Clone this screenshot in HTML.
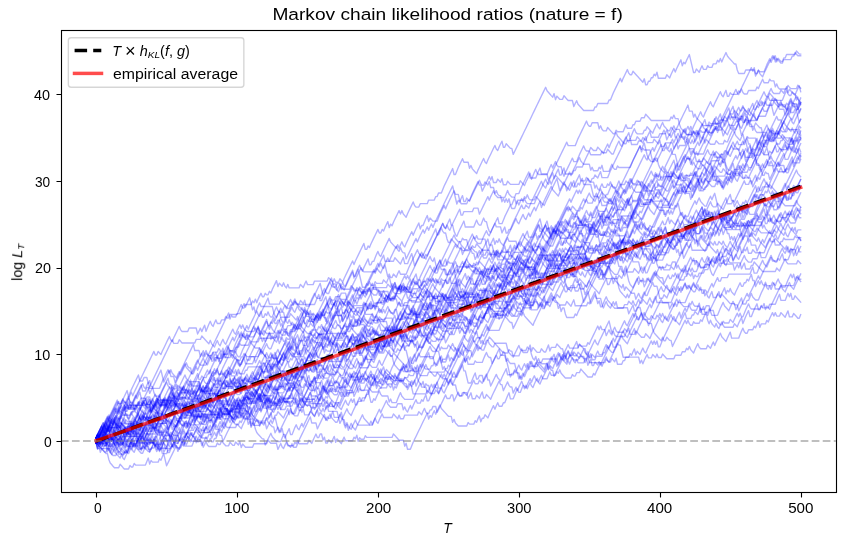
<!DOCTYPE html><html><head><meta charset="utf-8"><style>html,body{margin:0;padding:0;background:#fff;width:846px;height:545px;overflow:hidden}</style></head><body><svg width="846" height="545" viewBox="0 0 846 545" style="display:block">
<rect width="846" height="545" fill="#fff"/>
<g transform="matrix(1.409091 0 0 -0.08671171 96.1303 441.14)" fill="none" stroke="#0000ff" stroke-opacity="0.3" stroke-width="1.39" stroke-linejoin="round" stroke-linecap="square">
<path vector-effect="non-scaling-stroke" d="M0 37l1 33l1 34l1 33l1 34l1-40l1-19l1 41l1 34l1 33l1 34l1 33l2 68l1 33l2 68l1-41l1 41l1 33l1-40l2 0l1 40l1 41l1 34l1-41l1 41l1 33l2 68l1 33l1 34l1 33l2 68l1 33l2 68l1 33l2 68l1-41l1 0l1 41l1-19l1-18l1 41l1 33l2 68l1 33l1 34l1-41l1-18l1 41l1 33l2 68l1 33l1-40l1-18l4 0l1 40l5 0l1-69l1 33l1 34l1-40l1 40l1 34l1-70l1 41l1 40l1 34l1-40l1-19l1 41l1 34l1-41l2 0l1 41l2 0l1 40l1-18l1 0l1 40l5 0l1 41l1 40l1 34l1-40l1 0l1 40l4 0l1 41l1-19l1 41l1-41l1 41l1 34l1 33l1-40l1 0l1 40l1-18l1 0l1 41l1-19l1 41l1 34l1 33l1 34l1-69l1 40l2-36l1 40l1-40l1-19l1 41l1-41l7 0l1 41l1-18l1-19l1 41l1 34l1-41l4 0l1 41l9 0l1 40l3-54l1 40l1-40l2 0l1 40l2-36l1 40l1 34l1 33l2 68l1 33l1 34l1-41l1 41l1 34l1 33l2 68l1 33l1 34l1-69l1 0l1 40l1-18l1 40l2 68l1 33l2 68l1-41l1 0l1 41l1-19l1 41l1 34l1 33l1-69l1 41l1-19l1 41l1 34l1 33l1 34l1 33l1-40l1 40l1-40l1-18l1-19l1 41l1 34l1 33l2 68l1-41l1-18l2 0l1 40l5 0l1 41l4 0l1 40l1 0l1 41l2 0l1 41l1 40l1 34l1 33l2 68l1 33l1 34l1-69l1 0l1 40l1 41l1 33l2 68l1-41l3 0l1-69l1 33l1-40l1-18l1-19l1-18l1 41l1 33l2 68l1 33l1-40l1-18l1 40l1 34l1 33l2 68l1 33l1-40l1-18l1 40l1 34l1 33l1-69l1 0l1 41l1-19l2-36l1 0l1-69l1 33l2 68l1 33l2 68l1 33l1 34l1 33l2 68l1 33l2 68l1 33l2 68l1 33l2 68l1 33l2 68l1-41l2-36l1-19l1-18l1 41l1-70l1 41l1-18l1-19l2 0l1 41l1-18l1-19l1-18l3 0l1-69l1 34l1 33l1-40l1-19l3-54l7 0l1 40l1 0l1 41l7 0l1 40l1 0l1 41l1 40l2 68l1 33l2 68l1-41l1 41l1 33l2 68l1-41l1-18l1 0l1 40l3-54l1-19l3-54l1 40l1-69l1 0l1 41l1 0l1 40l1 0l1 41l1-19l1 41l1-69l5 0l1 40l2-36l1 40l2 68l1-41l1 41l1 33l2 68l1-70l1 41l1-18l1 40l1 34l1 33l2-138l1-70l1 0l1 41l1-18l1-19l1 41l1 34l1-41l2 0l1 41l1-19l2 0l1 41l2 0l1 41l1-19l1 41l1-41l1 41l1 34l1 33l1-40l1-19l3-54l1-19l1 0l1-69l1-40l4 0l1 40l6 0l1-69l1 33l1 34l1-40l1-19l1-18l1 41l1 33l2 68l1 33l2 68l1-41l1 41l1-70l1 41l1-18l1-19l1 0l1 41l1 0l1 40l6 0l1 41l1-18l1-19l1 0"/>
<path vector-effect="non-scaling-stroke" d="M0 37l1 33l1-40l1-19l3-54l1 40l1-40l1-19l1 41l1 34l1 33l1 34l1-69l2 0l1 40l3 0l1-69l1-41l7 0l1 41l11 0l1 40l2-36l1 41l1 33l1 34l1-70l2 0l1-69l1 34l1 33l1 34l1-69l1 0l1 40l1-18l1 0l1 41l1-19l1-18l2 0l1 41l1-18l1-19l1-18l7 0l1-69l1 33l1 34l1-41l1-18l5 0l1 41l1-18l1 0l1 40l2-36l1-19l2 0l1 41l2-36l1 0l1 40l2-36l1 40l1-69l1 40l2-36l5 0l1 40l9 0l1 41l2-36l4 0l1-70l2 68l1-41l1-18l1 40l1 34l1-41l4 0l1 41l1-18l1 40l1-40l6 0l1 40l2-36l1 40l2 68l1-41l1 0l1 41l1 0l1-70l1 34l1-69l1 0l1 40l2-36l1 40l1 34l1-69l1 40l2-36l1-19l1 41l1 34l1-41l5 0l1 41l1-19l1 41l1-69l1 40l1-18l2 0l1 41l1-19l18 0l1 41l1-18l1-19l2-36l3 0l1-69l1 33l1-69l2 0l1 40l1 41l1 34l1 33l2 68l1 33l2 68l1 33l1 34l1 33l1-69l1 41l1-19l1 41l1 34l1-41l1 41l1 33l1 34l1-41l3-54l1-19l1-18l2 0l1-69l1 34l1-41l2-36l6 0l1 40l1-18l3 0l1 40l1-18l1 41l1 33l1-69l1 41l1 0l1 40l2-36l1 40l2 68l1 33l1-40l1 40l1 34l1-41l2 0l1 41l1 0l1 40l1 41l1 34l1-70l2 0l1 41l1 40l1 34l1-41l1 0l2 82l1-41l1 41l1-41l1 41l1 33l1-40l1-19l1 41l1 34l1 33l1-40l1 40l1 34l1-41l3 0l1 41l1 40l1-40l3 0l1 40l1-18l1 41l1-41l3-54l4 0l1 40l1-18l1 0l1 40l2 0l1 41l1-18l1-19l3-54l3 0l1 40l1-18l1 41l1 33l2 68l1-41l1 41l1 33l1 34l1-41l1-18l1 0l1 41l1-19l1-18l1 41l1-70l3 0l1 41l1 0l1 41l9 0l1-70l1 34l1-41l1 41l1 33l1 34l1-40l2 0l1 40l2-36l1 40l1-40l2 0l1 40l3-54l5 0l1 40l4 0l1 41l2 0l1 40l1-18l1 40l1-40l1-18l1-19l1 41l1 34l1 33l1-40l1-18l4 0l1 40l2-36l1 40l1 34l1-41l1 41l1 33l2 68l1-41l2-36l1-19l1 41l1 34l1 33l1-69l5 0l1 41l1 40l1 34l1-41l1-18l1 0l1 41l3 0l1 40l1-18l1 40l1 34l1-69l1 40l3 0l1 41l1-18l1 40l1 34l1 33l1-40l1 40l1-40l2 0l1 40l3-54l1 40l1 34l1-69l2 0l1 40l2-36l1-19l1 0l1 41"/>
<path vector-effect="non-scaling-stroke" d="M0-16l1-19l3 0l2 82l1 33l1 34l1 33l1 34l1-69l1 0l1 40l2 0l1 41l1-18l1-19l2-36l5 0l1 41l1 40l1-40l1 40l1-40l1 40l1 34l1 33l1 34l1-41l1-18l2 0l1 41l2 0l1 40l1 41l1-69l1 40l2-36l1-19l1 41l1 34l1 33l2 68l1 33l1 34l1-41l1 41l1 33l1-40l1-18l3 0l1 40l1 41l1-41l2-36l1 40l1-40l1 40l2 68l1 33l1-69l1 0l1 40l2 0l2 82l1 33l1 34l1-69l2 0l1 40l1 41l1 33l1-40l1-18l1-19l1 0l1 41l2 0l1 40l1 41l1 34l1 33l1-40l1-19l1 41l1 34l1 33l1 34l1-69l2 0l1 40l5 0l1 41l1 40l1-40l1 40l2 68l1-41l1-18l1 0l1 40l1 41l1 34l1 33l1 34l1 33l1-40l1-18l2 0l1 40l1-18l1 0l1 41l1 0l1 40l2-36l1 40l1 34l1-41l1 41l1 33l1-40l1-18l1-19l1 0l1 41l2-36l1 40l1 34l1 33l1 34l1-41l1 41l1 34l1 33l2 68l1 33l1 34l1-41l2 0l1 41l3 0l1 40l3 0l1-69l1 34l1 33l2 68l1-41l1 0l1 41l1-19l3-54l1 40l2 68l1 33l2 68l1 33l1 34l1-41l1 41l1 34l1 33l1 34l1 33l1 34l1-69l6 0l1 40l3-54l1-19l1 41l1 34l1-70l2 0l1 41l1 40l1 34l1-69l1-70l2 68l1 33l1 34l1-41l1 41l1-41l1-18l1 41l1 33l2 68l1 33l2 68l1 33l2 68l1 33l1 34l1-41l1-18l1 41l1-41l1-18l1 40l2 68l1 33l2 68l1 33l1-69l1 0l1 41l6 0l1 40l3 0l1-69l1 33l2 68l1 33l2 68l1-41l1 41l1 33l1 34l1-41l2-36l5 0l1 40l1 41l1-41l2-36l2 0l1 41l2 0l1 40l1 41l1 33l2 68l1 33l1 34l1-69l4 0l1 40l1 41l1 33l1-69l4 0l1-69l1 33l2 68l1 33l2 68l1 33l2 68l1 33l1 34l1 33l1 34l1-40l5 0l1 40l1 41l1 33l2 68l1 33l2 68l1-41l1-18l1 0l1 40l4 0l1-69l1 34l1-41l1-18l2 0l1 40l3-54l1-19l1 0l1 41l1-18l4 0l1 40l1 41l1-41l3 0l1 41l1 0l1 40l3 0l1 41l2 0l1 41l1-19l3-54l13 0l1 40l1-18l1 40l1-40l2 0l1-69l1-41l2-36l1-19l1 41l1 34l1-41l1 41l1-41l1 41l1 33l1 34l1 33l2 68l1-41l1-18l1 41l1 33l1 34l1 33l1 34l1-40l1-19l1 41l1 34l1 33l1 34l1 33l1-40l1-18l1 40l1 34l1-69l1 0l1 40l1-18l4 0l1 40l1-18l1 41l1-41l1-18l2 0l1 41l5 0l1 40l1-18l1 40l2 68l1-41l3 0l1 41l1-19l2 0l1-69l1 34l1-41l1-18l5 0l1 41l1-19l1-18l4 0l1 41l1-19l1-18"/>
<path vector-effect="non-scaling-stroke" d="M0 37l1-70l1 41l1-18l1 40l1 34l1 33l1-40l1-18l1 40l1 34l1 33l2 68l1 33l1-69l1 0l1 41l1-19l3-54l2 0l1 40l1-18l1 0l1 41l1-19l1 41l1-41l1 41l1 34l1 33l1 34l1 33l1 34l1-40l1 40l1-69l1 40l1 41l1 34l1-70l1 0l1 41l1-18l1 40l1 34l1 33l1-40l1-18l1-19l2-36l1 40l1 34l1-69l2 0l1-70l2 68l1 33l1-40l1 40l1 34l1-69l1 40l1-18l2 0l1 41l1-19l1 0l1 41l1 0l1 40l1 41l1 34l1 33l1-40l1 40l1 34l1-41l3 0l1 41l3 0l1 40l3-54l1 40l1 34l1-41l1-18l1 0l1 41l1 40l1-40l2 0l1 40l3-54l1-19l1-18l1 41l1 33l2 68l1-41l1 41l1 33l1-40l1 40l2 68l1 33l1-69l1 40l1-18l2 0l1 41l1-18l1 40l1 34l1 33l2 68l1 33l1 34l1-69l1 40l1 41l1 33l1-69l1 0l1 41l1 40l1 34l1 33l1-69l3 0l1 41l1-19l2 0l1 41l2-36l2 0l1-70l2 68l1 33l1 34l1-41l1 41l1 33l2 68l1-41l3-54l1 0l1 40l1-18l2 0l1 40l2-36l3 0l1 40l1-18l1 41l1 33l2 68l1 33l2 68l1-70l1 41l2 0l1 40l5 0l2 82l1-41l1-18l1 0l1 40l1-18l1 41l1 33l2 68l1-41l1 41l1 33l1-40l1-19l1 41l1 34l1 33l1-69l1 40l2-36l1 41l1-70l1 0l1 41l1 40l2 68l1 33l2 68l1-41l2-36l1 40l1 34l1 33l1 34l1-69l3 0l1 40l1 41l1 33l2 68l1 33l1 34l1-40l1 40l1 34l1-41l2-36l1-19l2 0l2 82l1 33l1 34l1-41l2-36l2 0l1 40l1 41l1 34l1 33l1-40l1-19l1 41l1 34l1 33l2 68l1 33l1-69l2 0l1 40l1 41l1 34l1 33l2 68l1-41l2 0l1 41l1 40l1-40l1 40l1 34l1-41l1 41l1-41l1-18l5 0l1 41l1 40l1 34l1 33l2 68l1 33l1 34l1-41l1-18l1 41l1-41l1 41l1 33l2 68l1 33l1-69l1 0l1 41l1 40l1-69l5 0l1 40l1 0l1 41l4 0l1 40l1 41l1 34l1 33l1 34l1-41l7 0l1 41l1-18l2 0l1 40l3-54l1 0l1 40l1 41l1 33l1 34l1-41l1-18l1 41l1 33l1 34l1-41l1-18l1 41l1-70l4 0l1 41l2 0l1 41l1-19l1-18l1 41l1 33l1 34l1-69l5 0l1 40l4 0l1-69l1 34l1 33l1-40l1 40l1 34l1-70l1 0l1-69l1 34l1 33l2 68l1 33l1-69l3 0l1 41l1-19l1-18l1 41l1-41l1 0l1 41l1-19l2 0l1 41l2-36l1-19l1 0l1 41l1 0l1 40l1-18l1 41l1 33l2 68l1 33l2 68l1 33l2 68l1 33l2 68l1-41l1-18l1 40l2 68l1 33l2 68l1 33l1 34l1 33l1-40l1 40l1-69l1 0l1 41l1-19l3 0l2 82l1 33l1 34l1-41l1 41l1 34l1-70l1 41l1-18l1-19l1-18l1 0l1 41l5 0l1 40l1 0l1 41l1-19l1-18l2 0"/>
<path vector-effect="non-scaling-stroke" d="M0-23l1-69l1 33l1-69l1 41l1-19l2-36l1 0l1-69l1-41l1-18l1-19l1-18l3 0l1 41l1-18l1-19l1-18l3 0l1 41l1-19l1 0l1 41l1-18l7 0l1 40l1 41l1-69l1 40l1-18l4 0l1 40l1-18l1 41l1 33l2-138l1 33l2 68l1 33l2 68l1 33l1-69l1 40l1 41l1 34l1-41l1 41l1-41l1 41l1 33l2 68l1-41l1 41l1 33l1-40l1-19l2-36l4 0l1 41l2 0l1 40l1 41l1 33l1-40l1 40l1 34l1-41l2-36l1 40l2 68l1-41l1 41l1 33l2 68l1 33l1 34l1-41l2-36l1 41l1-41l2 0l1-69l1-70l2 0l1-69l1-40l1-19l3-54l1 0l1-70l2 68l1 33l1 34l1-41l3-54l3 0l1 40l1 41l1-41l1 41l1 33l1 34l1-69l1 0l1 40l1 41l1 33l1-40l1-18l1 40l1 34l1-41l1 41l1 33l2 68l1 33l2 68l1-41l1 41l1 33l2 68l1 33l2 68l1 33l2 68l1-70l2 0l1 41l1-18l1 40l1 34l1 33l1-40l2 0l1 40l1 41l1 34l1 33l2 68l1 33l1 34l1 33l1 34l1-69l1 40l1 41l1-41l1 41l1-41l1 41l1 34l1-70l2 0l1 41l1-18l1-19l1 41l1 33l1-40l5 0l1 40l1-18l1 41l1 33l1-40l1-18l1-19l2-36l1 41l1 33l1 34l1 33l2 68l1 33l2 68l1 33l1-40l3 0l1 40l1 41l1-41l3 0l1-69l1 34l1-70l5 0l1 41l1-18l1-19l1-18l9 0l1 41l1 40l1-40l1-18l2 0l1 40l1-18l1 40l2 68l1-41l1-18l1 40l2 68l1-70l1 41l2 0l1 41l1 40l1 34l1 33l2 68l1 33l2 68l1 33l2 68l1 33l1 34l1 33l1 34l1-40l1-19l1 41l1 34l1 33l1-69l9 0l1 40l1 0l1-69l1-40l7 0l1 40l1-18l3 0l1 40l1 41l1-41l1-18l1 41l1 33l1 34l1-41l1 41l1 34l1-70l4 0l1 41l1 0l1 40l2-36l1 41l1 33l1 34l1 33l1-69l4 0l1 41l1-19l4-72l1 40l1 34l1 33l2 68l1 33l1-40l1-18l2 0l1 40l1-18l2 0l1-69l1-70l2 0l1 41l1-18l1-19l2-36l1 40l2 68l1 33l2-138l1 33l1-40l1-18l1-19l1 41l1-69l1 0l1 40l1 41l1 33l1 34l1-41l1 41l1 34l1 33l2 68l1-41l1 41l1 33l1-40l1 0l1-70l2 68l1 33l2 68l1 33l1-69l2 0l1 40l1 41l1-41l1 0l2 82l1 33l2 68l1 33l1 34l1-70l1 0l1 41l1-18l1 0l1-70l2 68l1 33l1-40l1-18l1-19l2-36l1 41l1-70l1 0l1 41l1-18l1-19l1-18l1 41l1-70l4 0l1 41l1-18l1 0l1 40l1-18l1 0l1 40l2 0l1 41l2-36l1 40l1 34l1 33l1-69l1 0l1-69l1 33l1-40l1-18l1 0l1 40l1-18l3 0l1 40l3-54l1 40l2 68l1 33l1-40l1 40l1 34l1-41l1 0l1 41"/>
<path vector-effect="non-scaling-stroke" d="M0 37l1-19l1 0l1-69l1 34l1-41l2 0l1 41l1 0l1 40l2-36l1-19l1-18l1 41l1 33l1-40l1 40l2 68l1 33l1-69l1 41l1-19l1 41l1 34l1 33l1-40l1-19l2 0l1 41l2-36l1-19l1 41l1 34l1 33l1-69l5 0l1-69l1-70l1 0l1 41l1-18l1-19l1-18l1 41l1 33l1-40l1-19l1 41l1 34l1 33l1 34l1-69l1 40l1 41l1 33l1 34l1-69l1 40l1-18l6 0l1 41l1-19l1-18l2 0l1 41l2 0l1 40l7 0l1 41l4 0l1 40l1 41l1 33l1-40l1-18l3 0l1-70l1 34l1-69l2 0l1-70l1 34l1-69l1 40l1-18l4 0l1 41l1-19l1-18l1 41l1 33l1-40l1-18l1-19l1-18l1 0l1-69l1 33l1 34l1-40l1-19l1 41l1-69l1 0l1-70l1-40l1-19l1-18l1 41l1-41l2 0l1 41l1 40l2 68l1 33l2 68l1 33l1 34l1 33l1-69l3 0l1-69l1 33l2 68l1 33l1 34l1-69l1 40l1-18l1 0l1 41l1 40l1-69l3 0l1-69l1 33l1 34l1 33l2 68l1-41l2-36l1 40l2 68l1 33l2 68l1-41l2 0l1 41l1 40l1 34l1 33l2 68l1-41l1 41l1-70l1 41l1-18l1-19l4 0l1 41l2-36l1 40l1-69l1 40l1-18l1 41l1 33l1 34l1-41l3-54l1 0l1 40l2-36l1 40l1 34l1-69l1 40l1 41l1 33l2 68l1 33l1 34l1-41l4-72l1-19l1 0l1 41l1-18l1-19l2-36l3 0l1-69l1 33l1 34l1-69l2 0l1-70l1-40l1-19l1 0l1 41l3 0l1-69l1 33l1 34l1-69l2 0l1 40l2-36l1 40l1 34l1-69l1 0l1 40l2-36l1-19l1 41l1 34l1 33l2 68l1 33l1-40l1 0l1-70l2 68l1 33l1-40l1-18l1 0l1-70l2 68l1-41l1 41l1 33l1 34l1-41l2-36l1 40l2 68l1-41l1 41l1 33l1-40l1-18l1-19l1-18l1 41l1 33l2 68l1 33l2 68l1 33l1 34l1 33l2-138l1 33l2 68l1 33l1-69l1 41l1 40l1 34l1-41l1-18l1 41l1-41l2 0l1 41l1-19l3-54l2 0l1 40l1 41l1 33l2 68l1 33l1-40l1-18l1 40l1 34l1 33l2 68l1 33l2 68l1-70l1-69l1 34l1 33l1-40l1-18l4 0l1 40l2-36l1 40l1-69l3 0l1 40l3-54l1-19l2 0l1 41l2-36l1-19l1 41l1 34l1 33l1 34l1 33l2 68l1-41l1-18l1 41l1 33l1-40l1-19l1 41l1 34l1-41l2-36l1 40l1 34l1 33l1-69l1 41l1 40l1 34l1-41l1 41l1 33l1-40l1-18l3 0l1 40l1 41l1-70l3 0l1 41l2 0l1-69l1-41l4 0l1 41l1 40l2 68l1-41l2-36l1-19l1 41l1 34l1 33l1-40l2 0l1-70l2 68l1 33l2 68l1 33l1-40l1 40l1 34l1 33l2 68l1 33l1 34l1-40l1 40l1 34l1 33l2 68l1 33l2 68l1-41l2-36l1 0l1 40l1-18l1 40l1 34l1-69l3 0l1 40l1 41l1 34l1-70l1 41l1 40l1 34l1-69l1 0"/>
<path vector-effect="non-scaling-stroke" d="M0-16l2 0l1 40l1-18l1 41l1-41l2-36l1-19l3-54l1-19l3-54l1-19l1 41l1-41l1-18l1 41l1 33l2 68l1 33l1 34l1-69l1 40l3-54l1 0l1 40l2-36l1-19l1-18l1 0l1 41l2 0l1 40l2 0l1-69l1 34l1-70l3 0l1 41l1 0l1 40l1 0l1 41l1-18l1-19l2-36l1 40l2 68l1-70l5 0l2 82l1 33l1-40l2 0l1-70l2 68l1 33l1-40l1-18l1 40l1-40l1 0l1 40l1 0l1 41l1 40l1 34l1-41l1 41l1 33l2 68l1 33l2 68l1 33l1 34l1-41l1 41l1 34l1-41l2 0l1 41l1-19l2-36l1 0l1-69l1 33l2 68l1 33l1 34l1 33l1-69l1 0l1 41l1 40l2 68l1 33l1 34l1-41l2-36l3 0l1 40l2-36l4 0l1 40l2-36l1 41l1 33l2 68l1 33l1 34l1 33l2 68l1 33l2 68l1 33l1 34l1-41l1 0l1 41l1 0l1 41l1-19l1-18l1 0l1 41l1-19l1 0l1 41l1 40l1-69l1 41l1 40l1 34l1-41l1 41l1 34l1-41l1-18l1 40l1-40l1 0l1-70l2 68l1-41l1-18l1 41l1-41l1 41l1-41l1 41l1 33l1-69l1 40l2-36l1 0l1 40l1 0l1 41l1-18l1 40l1-69l1 41l1-19l1 41l1 34l1 33l1-40l8 0l1-70l1-40l1-18l7 0l1-70l2 68l1-70l3 0l1 41l1 40l1 34l1-69l1 0l1 40l1-18l2 0l1 40l1-18l3 0l1 41l1 40l1 34l1-41l1-18l1 0l1 41l1 40l2 68l1-41l2-36l1-19l2-36l1 40l1 34l1-69l1 40l3-54l1 40l1 34l1 33l2 68l1 33l1-40l1-18l1-19l1 41l1 34l1 33l1-40l1 40l1-40l1 40l1-69l1 40l1-18l1 41l1 33l2 68l1 33l1 34l1-41l1 41l1 34l1 33l1 34l1-41l3-54l1 0l1-70l2 68l1-41l2 0l1 41l1 40l1 34l1-41l3-54l1 40l1 34l1 33l2 68l1 33l2 68l1 33l2 68l1-41l3 0l1 41l1-19l3-54l2 0l1 40l1-18l1 41l1 33l1 34l1-69l1 0l1 40l2-36l1-19l2 0l2 82l1 33l1 34l1-69l9 0l1 40l1 41l1 33l2 68l1 33l1 34l1 33l1-40l1-18l2 0l1 40l3-54l4 0l1 40l1 41l1 33l1 34l1-41l1 0l1 41l1 40l2 68l1 33l2 68l1 33l2 68l1 33l2 68l1 33l2 68l1 33l1-40l1 40l1 34l1 33l2 68l1-41l1-18l1 0l1 41l1-19l1 0l1 41l1-18l1 40l1 34l1 33l2 68l1-41l3-54l1-19l3-54l1 40l1-69l2 0l1-69l1 33l1-40l1 0l1-70l2 68l1 33l2 68l1 33l1-40l1-19l1 41l1 34l1-41l2-36l1-19l1 0l1 41l1-18l1-19l1 41l1 34l1 33l2 68l1 33l2 68l1 33l1 34l1-70l2 82l1-70l1-69l1 34l1-41l2-36l1 40l1 34l1 33l2 68l1 33l1 34l1-69l1 0l1 40l1 41l1 33l2-138l1 33l2 68l1 33"/>
<path vector-effect="non-scaling-stroke" d="M0-16l1 33l2 68l1 33l2 68l1-41l1 41l1-70l1 0l1 41l6 0l1-70l2 68l1-70l1 0l1 41l1-18l1 40l2 68l1 33l2 68l1 33l1 34l1 33l1 34l1-40l1-19l2 0l1 41l1-18l1-19l1 41l1 34l1 33l1 34l1-69l7 0l1 40l2-36l1-19l1 0l1 41l1-18l1 40l1-40l1-18l1-19l1-18l1 0l1 41l1-19l1 41l1 34l1 33l2 68l1 33l1 34l1 33l2 68l1 33l1-40l1 40l1-69l1 0l1 41l1-19l1 41l1-41l4 0l1 41l1 0l1 40l4-72l1 40l1-69l1 40l1-18l3 0l1 41l1 0l1 40l9 0l1 41l2 0l1-70l1-40l1 40l1 34l1-40l1 40l1 34l1 33l2 68l1 33l2 68l1 33l1 34l1-69l1 40l1 41l1 33l1-69l1 0l1-69l1-70l1 0l1 41l1 0l1 40l1 41l1 34l1-70l1 0l1 41l1 40l2 68l1-41l1-18l1 41l1 33l1 34l1 33l1-40l1-18l1 40l2 68l1 33l1 34l1 33l1 34l1-40l1-19l2 0l1 41l1-18l1 40l1 34l1 33l1-40l1-18l1-19l2 0l1 41l4 0l1 41l1 0l1-70l2 68l1 33l1-40l1-19l1-18l1 41l1 33l1 34l1-41l1-18l1 0l1 41l1-18l1 0l1 40l4 0l1 41l1-19l3-54l1 40l2 68l1-70l1 0l1 41l1-18l1-19l4 0l1 41l1 40l2 68l1-41l2-36l1-19l1 0l1-69l1 34l1 33l1-40l3 0l1 40l4-72l3 0l1 40l1 41l1-41l1-18l3 0l1 40l7 0l1 41l1 40l2 68l1 33l1-69l2 0l1 41l1 0l1 40l1-18l1 41l1-41l1 41l1 33l1-40l1-19l2-36l1 40l1 34l1-40l1-19l2-36l1 40l2 68l1-41l1 41l1 33l1 34l1-41l3-54l4 0l1 40l1 41l1-69l3 0l1-70l2 68l1 33l1 34l1 33l1 34l1-40l1 40l1-69l1 40l6 0l2-138l2 0l1 40l1-18l1 41l1 33l2 68l1 33l1 34l1 33l1-40l1-18l1-19l1-18l1 41l1 33l2 68l1 33l1 34l1-41l1 41l1-69l1 40l1 41l1-41l2-36l2 0l1 40l1 41l1-41l1-18l1 41l1 33l1 34l1-41l1 41l1-41l2 0l1 41l1-18l1-19l1 41l1-41l3-54l1 40l1 34l1-41l1 41l1-69l2 0l1 40l2-36l1-19l1 0l1 41l2-36l1 40l1 34l1 33l1 34l1-40l1-19l2-36l1 40l2 68l1-41l2-36l1-19l1 41l1 34l1 33l1-40l1 40l2 68l1 33l1-69l1 40l1 41l1 34l1 33l2 68l1-41l1-18l8 0l1 40l3-54l1 40l1-40l1-19l1 41l1 34l1-41l1-18l1 40l2 68l1 33l1-40l1 40l2-138l1 33l2 68l1 33l2 68l1 33l1 34l1-41l1 41l1-41l2 0l1 41l1-18l1-19l3-54l1 40l2 68l1-41l1 41l1-70l1-69l1 34l1 33l2 68l1 33l1 34l1 33l2 68l1 33l2 68l1-41l2-36"/>
<path vector-effect="non-scaling-stroke" d="M0-23l1 40l2 68l1 33l1-69l1 41l1-19l1 41l1 34l1 33l1 34l1-41l1 41l1-41l3-54l1-19l1 0l1 41l2-36l1-19l1-18l1 41l1 33l1 34l1-69l2 0l1-70l2 68l1 33l2 68l1 33l1-40l1-19l2-36l1 0l1 40l1-18l1 0l1 41l4 0l1-70l2 68l1 33l2 68l1 33l1-40l1-18l1-19l1 41l1 34l1 33l1 34l1-69l1 40l1-18l1 40l1-40l1 0l1 40l3-54l1 40l2 68l1-41l1 41l1-41l1-18l1 40l2 68l1 33l1-69l3 0l1-69l1 33l1 34l1-41l1-18l1 41l1 33l2 68l1 33l1-40l2 0l1 40l1 41l1 33l1-40l1-18l1-19l4-72l1 40l1 34l1-70l1 41l1-18l1-19l1 0l2-138l1 40l1 41l1 34l1-41l1 0l1 41l1 40l1 34l1-70l1-69l1 34l1 33l2 68l1 33l2 68l1 33l2 68l1-41l1 41l1 33l1 34l1-41l1 41l1-41l1 0l1-69l1-41l2-36l1 0l1-69l1 33l1-69l2 0l1 41l1 40l1-40l1-19l1-18l1 41l1 33l1-40l1-18l1-19l2 0l1 41l1-18l2 0l1 40l1 41l1 33l2 68l1 33l1-69l2 0l1-69l1-70l1 41l1-18l5 0l1-70l1-69l1 0l1 41l1-19l1 41l1 34l1 33l1-40l1-19l4 0l1-69l1 34l1-41l3 0l1 41l1 40l1 34l1-41l2-36l6 0l1 40l1 41l1 34l1 33l1 34l1-41l3 0l1-69l1 34l1 33l1 34l1-40l1 40l1-40l1 0l1-70l1 34l1 33l1-40l1-18l1 40l2 68l1 33l1 34l1 33l1 34l1-40l1-19l1 41l1 34l1 33l1 34l1-69l1 0l1-70l1-69l2 0l1 40l1 41l1 34l1-70l1 0l1 41l2 0l1-69l1 33l2 68l1 33l1 34l1 33l2 68l1 33l1-40l1 0l1 40l3 0l1-69l1 34l1-41l1-18l3 0l1-69l1-41l1 0l1-69l1 33l1 34l1-40l1 40l1 34l1 33l2 68l1-41l1-18l2 0l1 40l3-54l1-19l1 41l1 34l1-70l1 41l1-18l1-19l1 41l1 34l1 33l2 68l1-70l1 0l1 41l1 0l1-69l1 33l1 34l1 33l2 68l1 33l1 34l1-69l1 40l3-54l1 0l1-70l1 34l1-69l1 0l1 40l2-36l1 40l1 34l1-41l2 0l1 41l1 40l1 34l1-40l1 0l1 40l1 41l1-70l2 0l1 41l1-18l1 0l1-70l1-69l4 0l1 41l1-19l1 41l1 33l1-69l1 41l1-19l1-18l1 41l1 33l1-40l1-18l1 40l2 68l1 33l1-40l1 40l1-40l1 40l1-69l1 0l1 40l1 41l1 34l1 33l2 68l1 33l1 34l1 33l1 34l1-40l1-19l2-36l1 40l2 68l1 33l1-69l3 0l1 41l1 0l1 40l2-36l1 40l1 34l1-69l3 0l1-70l1-40l1 40l1-40l1-19l1-18l1 41l1-41l1-18l1 41l1 33l1-40l1-19l6 0l1 41l1-18l1-19l1 41l1 34l1 33l1-69l1 41l1 40l1 34l1 33l1-69l1 0l1 41l1 40l1 34l1 33l1-69l1 0l1 41l1-19l4 0l1 41l4 0l1 41l1 40l1 34l1-70l3 0l2 82l1-41l1 41l1-70l1 0l1 41l1-18l1-19l2-36"/>
<path vector-effect="non-scaling-stroke" d="M0-23l1-41l1 41l1 34l1 33l2 68l1 33l1-40l1 40l1-69l3 0l1 40l1 41l1-41l8 0l1-69l1 34l1 33l1 34l1-69l3 0l1 40l2-36l7 0l1 40l2-36l1 40l1-69l2 0l1 41l1-19l2-36l1 41l1 33l1 34l1 33l2 68l1 33l2 68l1 33l1 34l1-41l1-18l1 41l1 33l2 68l1 33l1-40l1 40l1-69l1 41l1 40l1 34l1 33l1 34l1-69l4 0l1-70l1-69l1 41l1-19l5 0l1-69l1 34l1 33l2 68l1 33l2 68l1 33l1-69l1 0l1 41l1-19l1 41l1 33l2 68l1-41l1 0l1 41l1 40l2 68l1-41l1 41l1 33l1-40l1 0l1-70l1 34l1-69l1-70l2 68l1-41l2-36l1-19l3-54l1 40l2 68l1 33l2 68l1-41l1 0l1 41l1 40l1-69l1-70l2 68l1 33l2 68l1 33l2 68l1 33l2 68l1 33l2 68l1-70l1 41l1 40l1-40l1 40l2 68l1-41l2-36l5 0l1 40l1 41l1 33l2 68l1 33l1-69l3 0l1 41l1 40l1-69l2 0l1-70l1-69l2 0l1 41l1 40l1-40l1-19l1 41l1-41l2 0l1 41l2 0l1 41l1-19l2-36l5 0l1 40l2-36l3 0l1 40l1-18l1 41l1-41l3 0l1 41l1-18l1 40l1 34l1 33l2 68l1 33l2 68l1 33l2 68l1-70l4 0l1 41l1-18l1-19l1-18l7 0l1 41l1-19l3 0l1 41l2 0l1 41l1 40l1-40l1 40l1 34l1 33l1-69l5 0l1-69l1-41l2 0l1 41l1 40l2 68l1 33l1-40l1 40l1-40l1 40l2 68l1-41l1-18l1 40l2 68l1 33l1-40l1 40l2 68l1 33l1-40l1 40l1 34l1 33l1-69l1 0l1 41l1-19l1-18l1 41l1 33l1-40l2 0l1 40l3-54l5 0l1-70l1 34l1-40l1-19l2-36l1 40l1-40l1-18l1 40l1-40l1-19l1-18l3 0l1-69l1-41l1 41l1-70l1 0l1-69l1 34l1 33l2 68l1 33l2 68l1 33l2 68l1 33l2 68l1-70l3 0l1 41l1-18l1-19l1-18l1 41l1 33l1 34l1-69l1 0l1 40l2-36l1-19l1 41l1 34l1 33l1 34l1-41l4-72l1 40l1 34l1 33l1 34l1-41l4-72l1-19l1-18l5 0l1 41l1 40l1 34l1 33l2 68l1 33l2 68l1 33l2 68l1-41l1-18l1 40l1-40l1-18l1-19l3-54l1-19l1-18l1 0l1-69l1 34l1-41l2-36l1-19l1 41l1 33l2 68l1 33l2 68l1-41l1 41l1 33l2 68l1-70l5 0l1 41l1-18l1-19l1-18l1 41l1 33l1 34l1-69l9 0l1 40l1 41l1-41l2 0l1-69l1 34l1-41l2-36l1-19l2 0l1 41l1-18l1-19l1 41l1 34l1 33l1-40l1-18l1-19l1 41l1 33l1-40l1-18l1-19l4-72l1-19l1-18"/>
<path vector-effect="non-scaling-stroke" d="M0 37l1 40l1 34l1 33l2 68l1-41l2-36l1-19l1-18l2 0l1 41l1-18l1 40l1 34l1-41l1 41l1-70l1-69l1 34l1 33l2 68l1 33l1-69l3 0l1 41l1 40l1 34l1 33l1-69l1 0l1 41l1 40l1 34l1 33l1 34l1-40l1-19l1 0l1 41l1-18l1 40l1 34l1 33l2 68l1 33l1 34l1-40l1 40l1-40l1 40l1 34l1-70l1 0l1 41l1-18l1-19l2 0l2 82l1 33l1-69l5 0l1-69l1 33l1 34l1-41l1 41l1 34l1 33l1 34l1 33l1 34l1-40l1 40l1 34l1-70l1 0l2 82l1 33l2 68l1 33l1 34l1-41l1-18l1 41l1 33l1-40l1-19l1 0l2 82l1 33l1 34l1 33l2 68l1 33l2 68l1-41l2-36l1-19l1 41l1 34l1 33l2 68l1-70l1 0l1 41l1-18l1 40l1-40l1 0l1 40l1 0l1-69l1 33l1-69l2 0l1 41l2 0l1 40l3-54l1-19l2 0l1 41l1 40l2 68l1 33l1-40l1-18l1-19l2 0l1 41l1-18l1-19l1 0l1 41l2 0l1 41l1 40l1 34l1 33l1 34l1-41l2-36l1 41l1 33l1-40l1-19l1 41l1-41l2 0l1 41l1-18l1-19l4-72l1-19l1 41l1-41l1 41l1 34l1 33l1-40l1-19l3 0l1 41l1-18l2 0l1-70l1 34l1-40l1 40l1-40l1 40l1 34l1-41l2-36l1-19l1 41l1 34l1 33l1 34l1-41l2 0l1 41l2 0l1 40l1-18l4 0l1 41l1 0l1 40l3-54l1 40l1 34l1-41l1 41l1-41l1 41l1 33l2 68l1 33l2 68l1 33l1 34l1-69l3 0l1 40l1 41l1 33l1 34l1-40l1-19l10 0l1 41l1-18l2 0l1 40l2-36l1-19l2-36l4 0l1 41l1 40l1-40l1-19l3-54l1 40l1 34l1 33l2 68l1 33l2 68l1 33l1-40l1 40l2 68l1 33l1 34l1-41l3-54l1-19l1 41l1 34l1 33l2 68l1 33l1-69l1 0l1-69l1 33l2 68l1-41l1-18l1 40l1 34l1-69l1 0l1 40l1-18l1 41l1 33l1-40l1-19l1-18l1 41l1 33l2 68l1 33l1-40l1 40l2 68l1 33l2 68l1 33l1-40l1 40l1 34l1 33l1-40l1-18l1-19l1 41l1 34l1-41l1-18l1 40l1 34l1-69l1 0l1 40l1 0l1 41l1 40l1 34l1-40l2 0l1 40l1 41l1-41l3 0l1 41l1-19l1 0l1-69l1 34l1-41l2-36l4 0l1-70l2 68l1 33l1-69l1 41l1-19l1-18l1 41l1-41l2-36l1 40l1 34l1 33l2 68l1 33l2 68l1 33l1-40l1-18l1-19l2 0l1 41l1 40l2 68l1 33l2 68l1-41l1 41l1 33l2 68l1 33l1 34l1-41l1 41l1 34l1 33l1 34l1 33l2 68l1-41l1 41l1 33l1 34l1-69l1 0l1 40l1-18l1 0l1 41l1-19l2 0l1 41l1 40l1-40l4 0l1-69l1-70l1-69l1 34l1 33l2 68l1 33l1-40l1 0l1-70l1 34l1-41l1-18l7 0l1-69l1 34l1-41l1-18l1 0l1 40l1 0l1 41l1 40l2 68l1 33l1-40l1-18l1-19l1-18l6 0l1 41l1-19"/>
<path vector-effect="non-scaling-stroke" d="M0-16l1 40l1 41l1-41l1 0l1 41l2 0l1-70l2 68l1-41l1 41l1-41l2-36l1-19l1-18l1 0l1 41l1-18l1-19l1 41l1 34l1 33l1-40l1-19l5 0l1 41l1-18l1-19l1 41l1 34l1 33l2 68l1 33l2 68l1 33l2 68l1 33l1 34l1 33l1-40l1-18l1-19l5 0l1 41l1-18l3 0l1-70l2 68l1-70l3 0l1 41l1 0l1-69l1 33l2 68l1 33l1-40l1 40l2 68l1 33l1-40l1 0l1 40l2-36l1 0l1 40l1 0l1 41l3 0l1 40l1 0l1 41l2 0l1 40l2-36l1 41l1-70l1 41l1-18l1 0l1 40l2-36l1 40l1 34l1 33l1-40l1-18l1-19l1-18l1 41l1 33l1-69l2 0l1 41l3 0l1 40l1-18l5 0l1 40l4-72l1 40l1 34l1 33l2 68l1 33l1-40l1-18l1 0l1-70l2 68l1-70l3 0l1 41l1 40l1-40l1-18l1-19l1 41l1 34l1 33l1 34l1-41l1 41l1 33l1-40l2 0l1-69l1-41l3 0l1 41l1-19l1-18l1 0l1 41l1-19l2-36l2 0l1 41l1 40l1 34l1-41l2-36l1 40l2 68l1-41l5 0l1 41l1 40l1 34l1-41l3 0l1 41l1-18l1-19l2-36l1 0l1-70l1-40l1-18l1-19l1-18l2 0l1 41l1-18l1 40l1-69l4 0l1 40l1-18l1 41l1-70l1 0l1 41l1 40l1-40l1-18l3 0l1 40l1 0l1 41l1-18l1-19l1 41l1 33l1 34l1-69l2 0l1 40l1 41l1-69l1 40l2-36l1 40l2 68l1 33l1 34l1 33l1-40l1-18l1-19l1-18l2 0l1-69l1 34l1 33l1 34l1 33l1-40l1 0l1 40l1 41l1 34l1 33l2 68l1 33l2 68l1 33l2 68l1 33l1 34l1 33l2 68l1 33l2 68l1-41l1 41l1 33l1-40l1 40l2 68l1 33l1-40l1-19l1-18l1 41l1 33l1 34l1-40l3 0l1 40l1 41l1-70l2 0l1 41l1-18l1 40l1 34l1 33l2 68l1 33l1 34l1-40l1 40l1 34l1 33l1-40l1 40l1-40l1-18l1-19l1 41l1 34l1 33l1-40l1-19l1-18l1 41l1 33l1-40l1 40l2 68l1-41l2-36l1-19l1-18l8 0l1 41l2 0l1 40l1 41l1 33l1-40l1 40l2 68l1-41l1 0l1-69l1-41l1 41l1 34l1 33l1-40l1 0l1 40l1 41l1 33l2 68l1-41l1-18l1 40l1 34l1-40l1-19l3-54l1-19l1 41l1-69l1-70l1-40l1-18l1-19l1 41l1 34l1-70l2 0l1 41l1 40l2 68l1 33l2 68l1 33l1 34l1-41l1-18l1 41l1-41l3 0l1 41l1-19l1 41l1 34l1-70l2 0l1 41l5 0l1-70l2 68l1-70l1 41l1-18l1 40l2 68l1-70l1 0l1 41l1-18l1 40l1-69l2 0l1 40l1 0l1 41l1 0l1 40l1-18l1 41l1-41l1 41l1-41l2-36l1 40l1-40l3 0l1 40l1 41l1 34l1 33l1 34l1-41l2-36l1 0l1 40l3-54l1 0l1 40l1 0l1-69l1 34l1 33l1 34l1 33l1 34l1-69l1 0l1 40l1-18l1 41l1 33l1 34l1-41l1 0l2 82"/>
<path vector-effect="non-scaling-stroke" d="M0 37l1 33l1 34l1 33l1-69l1 41l1-19l1 41l1 34l1 33l1-40l3 0l1 40l2-36l1 0l1 40l3-54l1-19l1 41l1-41l2-36l5 0l1-69l1 33l1 34l1-41l1 41l1-41l4-72l1 0l1-70l2 68l1 33l2-138l1 33l1 34l1-70l1 0l2 82l1 33l2 68l1 33l1-69l2 0l1 40l1-18l1 41l1 33l2 68l1-41l1 41l1 33l2 68l1 33l1-40l1 40l2 68l1 33l1 34l1-41l1 41l1 33l2 68l1 33l1 34l1-69l4 0l1-70l1-40l1 40l2 68l1-41l2-36l6 0l1 40l3 0l1-69l1 34l1-41l1 41l1-41l1 41l1 33l1-40l1 40l1 34l1-41l2-36l1 40l1-69l6 0l1-69l1 33l2 68l1-41l1 41l1 33l2 68l1 33l1 34l1-41l1-18l1 41l1-70l1 0l2 82l1 33l1 34l1-41l1-18l1 41l1 33l1 34l1-69l3 0l1-70l1 34l1-41l3-54l1 40l1 34l1-41l4 0l1 41l1-18l1 40l1 34l1 33l1-40l1-18l1-19l1-18l1 41l1 33l2 68l1-70l2 0l1 41l1-18l2 0l1 40l1-18l1 41l1-41l1-18l1 0l1-70l2 68l1-41l1-18l1 0l1 41l1-19l1 41l1 34l1-41l2-36l1-19l1 0l1 41l1 40l1-40l2 0l1 40l2 0l1 41l1-18l2 0l1 40l1 0l1-69l1-41l2-36l1 40l1-69l1 41l1-19l1 0l1-69l1-40l1 40l1 34l1 33l2 68l1 33l1 34l1-41l1 41l1-41l1 41l1 34l1 33l2 68l1 33l2 68l1-41l1 0l1 41l1 40l1-69l1-70l2 68l1-41l1 41l1 33l2 68l1 33l1-69l1 41l1-19l1-18l1 0l1 41l1 40l1 34l1-41l2-36l1 0l1 40l3-54l1-19l2-36l1 0l1-69l1-70l2-138l1 40l1 0l1 41l1-18l1 40l1 34l1-41l1-18l1 41l1 33l1-40l1 40l1-69l1 40l3 0l1 41l2-36l1-19l3-54l1 40l1 34l1 33l2 68l1-41l1-18l1 40l2 68l1-41l3-54l1-19l1-18l1 41l1-41l1 41l1 33l1-40l1-19l1 41l1-41l4 0l1 41l1 0l1-69l1 33l1 34l1-69l1 0l1 40l2-36l1 40l1-40l1 40l2 68l1 33l2 68l1 33l2 68l1-41l1 41l1 33l1 34l1 33l2 68l1 33l1-40l1-18l1 40l1 34l1 33l1 34l1-40l1 40l1-69l1 0l1 40l1 41l1-41l1 41l1-41l2-36l1 0l1 40l2-36l1 0l1 41l1-19l1 41l1-41l1 41l1-41l2-36l1 40l2 68l1 33l2 68l1 33l1-40l5 0l1 40l1 41l1 33l2 68l1 33l1-40l1 40l2 68l1 33l2 68l1 33l2 68l1 33l1-69l1 40l2-36l1 41l1 33l1 34l1-70l1 41l3 0l1 41l1-19l1 41l1 34l1 33l1 34l1 33l2 68l1-41l1 41l1-70l1 41l2 0l1-69l1 33l1-69l3 0l1-69l1 33l2 68l1 33l1-40l1 40l2 68l1 33l1-40l1-19l1-18l1 41l1-41l1-18l1 41l1 33l1 34l1 33l2 68l1 33l1-40l1-18l3 0l1 40l1 41l1 33l1 34"/>
<path vector-effect="non-scaling-stroke" d="M0 37l1-41l2-36l1-19l1 41l1 33l2-138l1 34l1-41l2-36l2 0l1 40l2 0l1 41l1-19l2-36l1 40l2 68l1 33l1-69l1 41l1-19l1 41l1 34l1-70l1-69l1 34l1 33l2 68l1 33l1 34l1 33l2 68l1-70l1 41l2 0l1 41l4 0l1 40l2-36l1-19l1-18l2 0l1 41l1 40l2 68l1 33l1 34l1-41l1 41l1-41l2-36l1 40l2 68l1 33l2 68l1 33l1 34l1-41l1 0l1-69l1 34l1-41l1-18l2 0l1 40l1 41l1 34l1 33l2 68l1 33l1-69l2 0l1 40l6 0l2 82l1-70l1 41l1-18l1-19l4 0l1 41l1-18l2 0l1 40l1 41l1 33l2 68l1 33l1-40l1 0l1-70l2 68l1-41l1 41l1-41l2-36l3 0l1-70l1-69l4 0l1 41l1 40l2 68l1 33l1 34l1 33l1-40l1 40l2 68l1 33l1-40l1 40l1-40l1 40l1-40l1-18l3 0l1-70l2 68l1-41l9 0l1 41l1 40l1-40l1 40l1 34l1 33l1-40l1 40l2 68l1-41l1 41l1 33l2 68l1-41l2-36l1-19l2 0l1 41l10 0l1 41l1 40l1 34l1 33l1-40l1-18l1 40l1 34l1 33l2 68l1 33l2 68l1 33l2 68l1-41l6 0l1 41l1-19l2 0l1 41l7 0l1-69l1 33l2 68l1-70l3 0l1 41l1-18l1 40l1-40l1-19l3 0l1 41l1-18l1 40l1 34l1-69l7 0l1 40l1-18l1 0l1 40l1 41l1-41l1 41l1-69l1 40l2-36l1 40l1-40l1-19l1 41l1 34l1 33l2 68l1-70l1 0l1 41l1-18l1-19l1-18l2 0l1 41l1 40l2 68l1 33l1 34l1-41l1-18l1 41l1 33l1-40l1-19l1 41l1 34l1 33l2 68l1 33l2 68l1-41l2-36l1-19l1 41l1-41l3-54l1 40l1-69l2 0l1 40l3 0l1 41l1-18l1-19l2 0l1 41l1-18l4 0l1-70l1 34l1-40l1-19l2 0l1 41l3 0l1 40l2 0l2 82l1 33l1 34l1 33l1-69l2 0l1 41l1 40l1-40l1-19l1-18l1 41l1 33l2 68l1 33l1 34l1-69l1 0l1 40l1 41l1-41l1 41l1 33l1 34l1-40l1-19l1 41l1 33l1-69l2 0l1 41l1-19l2 0l2 82l1 33l2 68l1 33l1-69l1 0l1 40l1 0l1 41l1-18l2 0l1 40l1-18l1 41l1-70l1-69l1 34l1-70l1 41l1-18l1 0l1 40l1 41l1 33l2 68l1-41l1 41l1 33l1-40l1-19l2-36l1 0l1 41l1 40l1 34l1-41l1 41l1 33l2-138l1-70l1-69l1-40l1 0l1-70l2 68l1-70l3 0l1 41l3 0l1-69l1 33l1 34l1-41l1-18l1 0l1 41l1-19l3-54l1 0l1 40l2-36l1-19l7 0l2 82l1 33l2 68l1 33l1-40l4 0l1 40l4 0l1-69l1 34l1 33l1-40l1 0"/>
<path vector-effect="non-scaling-stroke" d="M0-16l1 40l1-40l1-19l1 41l1 34l1 33l2 68l1 33l1-40l1 40l1-40l1-19l4-72l1 40l1 34l1 33l1-40l1 40l1-69l3 0l1 41l1-19l1-18l1 0l1 41l1 40l1 34l1-41l1-18l1 41l1 33l1-69l1 0l1 41l1 40l1 34l1 33l1 34l1-41l1-18l1 41l1 33l2 68l1-70l1 41l1 40l3-207l1 40l2-36l1-19l2-36l1 40l1-40l1 40l2 68l1 33l1 34l1-40l1-19l1 41l1-41l7 0l1 41l1-18l1 40l1-40l3 0l1 40l2-36l4 0l1 40l2 0l1 41l1 40l1 34l1-41l2-36l1 40l2 68l1 33l1-40l8 0l1 40l1 41l1-41l2 0l2 82l1 33l1 34l1 33l2 68l1 33l1-69l1 0l1 41l1 40l1 34l1 33l1 34l1-69l1 0l1-69l1 33l1 34l1 33l1 34l1-40l1 40l1 34l1-41l2-36l1-19l2 0l1 41l2 0l1-69l1 33l2 68l1 33l1-40l1 40l1-40l1 40l1 34l1-69l1 0l1 40l2-36l1 40l1-40l1-19l1 41l1 34l1 33l2 68l1 33l2 68l1-70l1 0l1 41l1-18l1-19l2 0l1 41l1-18l2 0l1-70l1-40l1-18l3 0l1 40l1 41l1 33l2 68l1-70l1 41l1-18l1-19l1-18l1 41l1 33l2 68l1 33l2 68l1 33l2 68l1 33l1 34l1 33l1-40l1-18l1-19l3-54l3 0l1 40l1-18l1 0l1 41l1-19l3-54l1 40l1 34l1-41l3-54l1-19l3-54l1 40l1 34l1-69l1 40l2-36l1-19l2 0l1-69l1 34l1 33l1-69l1 0l1 41l1 40l1 34l1 33l2 68l1-41l1-18l1 0l1 41l1-19l2 0l1 41l1 40l2 68l1-41l2-36l7 0l1 40l1 0l1 41l1-18l1 40l1 34l1 33l2 68l1 33l1-40l1 40l1-40l1 40l1 34l1-41l1-18l1 41l1 33l2 68l1 33l2 68l1 33l2 68l1-41l2-36l1-19l11 0l1 41l3 0l1 40l2 0l1 41l2 0l1 41l1-19l3-54l1 40l1-40l1 40l1-69l3 0l1 40l1-18l1 41l1-41l1 41l1-41l2 0l1 41l1 0l1 40l3-54l1-19l1 41l1 33l2 68l1 33l1 34l1-40l1 40l1 34l1-41l2 0l1 41l1-19l3-54l1 40l1-69l1 41l2 0l1 40l1-18l2 0l1-69l1-70l1 0l1-69l1 34l1 33l2 68l1 33l1 34l1 33l1-40l1-18l1-19l1-18l1 0l1 41l1 0l1 40l1 0l1 41l2 0l1 40l1 41l1 34l1 33l1 34l1-69l1 40l1 41l1 33l2 68l1 33l1 34l1-69l1 40l1-18l1 40l2 68l1-41l1-18l2 0l1 41l1-19l3-54l1 40l1 34l1 33l2 68l1-70l1 0l1-69l1 34l1 33l1-40l1-18l1 0l1 40l1-18l1 40l1-40l1 40l2 68l1 33l2 68l1-70l1 0l1 41l1 40l2 68l1-41l3-54l1-19l1 41l1 34l1 33l1 34l1 33l2 68l1-41l1-18l1 41l1-41l1 0l1 41l1 40l1 34l1 33l2 68l1 33l1 34l1-41"/>
<path vector-effect="non-scaling-stroke" d="M0 37l1 33l1-69l4 0l1 40l1-18l5 0l1 41l1 40l1 34l1-69l2 0l1 40l1 41l1-41l2-36l1-19l3 0l1-69l1-40l1 0l1 40l1-18l1 40l1-69l1 41l1 40l1-40l2 0l1 40l3-54l3 0l1 40l5 0l1-69l1 33l2 68l1 33l1 34l1-41l1 41l1 34l1-41l1-18l1 40l2 68l1 33l2 68l1 33l1-40l3 0l1 40l1-18l1 41l1 33l2 68l1 33l1-40l1 40l2 68l1-41l1-18l1 40l1 34l1-41l1 0l1-69l1-40l3 0l1 40l1-18l1 40l1 34l1-41l2-36l3 0l1-69l1 33l2 68l1 33l1 34l1-41l1 41l1-69l2 0l1 40l2-36l1-19l2-36l2 0l1 41l1-19l1-18l2 0l1 41l3 0l1 40l1 0l1 41l1 40l2 68l1 33l2 68l1 33l1 34l1 33l1 34l1-40l1-19l1-18l1 41l1-41l1 41l1 33l2 68l1-70l3 0l1-69l1 34l1 33l1-69l1 0l1 40l3-54l1 0l1 40l1 41l1 34l1 33l1 34l1-69l1 40l1 0l1 41l1 40l1 34l1-41l6 0l1 41l1 40l1-40l1-18l1 40l1 34l1 33l1 34l1-69l1 0l1 40l3 0l1 41l1 40l2 68l1 33l1-69l4 0l1 41l1-19l1 41l1-41l1 41l1 34l1 33l1 34l1 33l2 68l1 33l1-69l1 0l1-69l1 33l2 68l1 33l2 68l1 33l1 34l1-69l1 0l1 40l1-18l2 0l1 40l1 41l1 34l1 33l2 68l1-41l1 0l1 41l1 40l1 34l1 33l3-207l1-70l1 34l1-41l1-18l1 41l1-41l1 41l1 33l1 34l1-41l1 41l1 34l1 33l1 34l1 33l2 68l1-41l2-36l2 0l1-70l2 68l1-41l1 0l1 41l1-18l1-19l1-18l1 0l1 41l1-19l1 41l1 34l1 33l1 34l1-69l3 0l1 40l1-18l1 40l1-40l1 40l2 68l1 33l2 68l1 33l2 68l1 33l2 68l1 33l1 34l1 33l2 68l1-70l1-69l1-40l1 40l1 34l1 33l2 68l1-41l1 0l1 41l1-19l1 41l1-41l1-18l1 41l1-70l3 0l1 41l1-18l3 0l1 40l1 41l1-41l3 0l1 41l1 40l2 68l1 33l2 68l1 33l1-40l1-18l2 0l1 40l2-36l1-19l1-18l1 41l1 33l1-40l1 40l2 68l1 33l1-40l1 40l2 68l1 33l2 68l1 33l1 34l1 33l2 68l1 33l1 34l1-40l1-19l1 41l1 33l2 68l1-41l1 41l1 33l2 68l1 33l2 68l1-41l1 41l1-41l1-18l1 40l2 68l1-41l3 0l1-69l1 34l1 33l1-40l1-19l4 0l1 41l1-18l1-19l1 41l1-69l1-70l2 68l1-70l1 41l1-18l1-19l1-18l3 0l1 41l1-18l1-19l3 0l1 41l1-18l1 0l1 40l1 41l1 33l1 34l1-41l1 41l1 34l1 33l1-40l1-18l1 40l1 34l1 33l1-69l1 41l1-19l1 41l1 34l1 33l1-69l1 0l1 40l5 0l2 82l1 33l1 34l1-70l1-69l1 34l1 33l2 68l1 33l1-69l2 0l1 41l1-19l1 41l1 34l1-41l2-36l2 0l1 40l1 41"/>
<path vector-effect="non-scaling-stroke" d="M0-23l3 0l1 40l4 0l1 41l1-18l2 0l1-70l1 34l1-40l1-19l1 41l1 34l1-41l1 41l1 33l1 34l1 33l1 34l1-40l1-19l1-18l2 0l1 41l1 40l2 68l1-41l6 0l1 41l1-19l1-18l1 41l1 33l2 68l1-41l1 41l1 33l1 34l1-41l1 41l1 33l1 34l1-69l1 40l2 0l1-69l1-40l1 40l1-69l1 40l3 0l1-69l1 34l1-41l1 41l1-41l1 41l1-41l1-18l1 40l1 34l1-41l2-36l2 0l1-69l1 33l1-69l2 0l1 41l1-19l1 41l1 34l1 33l1 34l1 33l1-40l1-18l1-19l1 41l1 34l1 33l1 34l1-69l1 0l1 40l1 41l1 33l2 68l1 33l1 34l1-41l1-18l1 41l1 33l2 68l1-41l1 41l1 33l1-40l1 40l2 68l1 33l2 68l1 33l1-40l1 40l1 34l1-41l1-18l1 41l1 33l1 34l1-41l1 41l1 34l1-41l1 41l1-41l2-36l1 40l1-69l1 40l1-18l1 41l1-41l1 41l1 33l1-40l1 40l2 68l1 33l1 34l1-41l1 0l1 41l1 40l1 34l1-40l1 40l1-69l1 0l1 40l1 41l1-41l1-18l6 0l1 41l1 0l1-70l2 68l1 33l1-40l2 0l1 40l1-18l1 41l1-41l2-36l1 40l1 34l1 33l1-69l1 41l1 40l1-69l1 40l1 41l1 34l1-70l9 0l1 41l1-18l1 40l1 34l1 33l2 68l1-41l2-36l1 40l2 68l1-41l2 0l1 41l1 40l1 34l1 33l2 68l1 33l1 34l1-41l1 41l1 34l1 33l1-40l1-18l1-19l3-54l1-19l1-18l3 0l1 41l1 40l1 34l1-41l2-36l1 40l1-40l1-18l1-19l4 0l1 41l4 0l1-69l1-41l1 41l1 33l1-69l1 41l1-19l1 41l1-69l3 0l1 40l2-36l1 0l1 40l1 41l1 33l1-40l1 0l1-70l2 68l1 33l2 68l1-41l2-36l1 40l1 34l1-41l1-18l1 41l1-70l1 41l1-18l1-19l1 41l1-41l1 41l1 34l1 33l2 68l1 33l1-69l7 0l1 40l1 41l1 34l1 33l1-69l1 0l1 41l1-19l2 0l1 41l1 40l1-40l1-18l1-19l1-18l1 41l1 33l1-40l1-18l1 40l1-40l1-19l1 41l1 33l1-40l1-18l1 40l2 68l1 33l1 34l1-41l2-36l1 40l1 34l1-69l2 0l1-70l1-40l1-18l1-19l1 41l1-69l1-70l1-40l1-18l1-19l2-36l1 40l1-40l1 40l2 68l1 33l2 68l1 33l1-40l1-19l1 41l1-41l1 0l1 41l2-36l1-19l1 41l1 34l1 33l1-40l1-19l3-54l1-19l4-72l1-19l1 41l1 34l1-41l1 41l1 33l1 34l1 33l2 68l1 33l1-69l1 41l1 40l1-40l1 40l1-40l2 0l1 40l1 41l1-41l2 0l1 41l3 0l1-70l1-40l1-18l1 40l1 34l1 33l1 34l1-40l1 40l1 34l1-41l1-18l1 41l1 33l1 34l1 33l2 68l1 33l2 68l1 33l2 68l1 33l2 68l1-41l1-18l1 40l2 68l1 33l2 68l1 33l2 68l1-70l1 0l1-69l1-41l1 0l1-69l1 34l1 33l1-40l1-18l1-19l1-18l1 41l1 33l2 68l1-41l1 0l1 41l1-19l1 41l1 34l1 33l1 34l1-41l2-36"/>
<path vector-effect="non-scaling-stroke" d="M0-16l1-70l1 41l1 40l2 68l1 33l2 68l1-70l1 41l1-18l1-19l2-36l1 41l1-70l2 0l1-69l1 34l1 33l1-40l1 40l1-40l1-19l1-18l2 0l1 41l1 40l1-69l1 41l1-19l1-18l1 41l1 33l1-40l1-19l1 41l1 34l1-70l1-69l1-41l1 41l1-41l1 41l1 34l1 33l2 68l1 33l1-40l1-19l3-54l2 0l1 40l2-36l1 40l2 68l1-41l1 0l1 41l1-19l1-18l1 0l1-69l1 34l1 33l1 34l1-41l1 41l1 34l1 33l1 34l1-41l1 41l1-41l1 41l1 33l2 68l1 33l2 68l1 33l1-40l1-18l1-19l3-54l1-19l1-18l1 41l1 33l1 34l1-41l3 0l1 41l2-36l1-19l3-54l1-19l7 0l1 41l1-18l1 40l1 34l1-69l1 0l1 40l1 0l1 41l1-19l3-54l1 40l2 68l1-70l1 41l1-18l1-19l1-18l2 0l1 41l1 40l1-40l1 40l1-69l3 0l1 40l3-54l1 40l2 68l1-41l1-18l1 40l1-40l1 40l1 34l1-69l6 0l1-70l1 34l1-41l1-18l1 0l1-69l1 34l1-41l2-36l1 40l1 34l1 33l1-40l1-18l10 0l1 40l1 41l1 33l2 68l1-41l1 41l1 33l2 68l1-41l2-36l4 0l1 40l3 0l1-69l1 33l1-40l1-18l1 40l1 34l1-41l1 41l1 34l1 33l1-40l2 0l1 40l1-18l1 40l1 34l1-69l1 0l1 40l1 41l1 34l1 33l2 68l1-70l2 0l1 41l1-18l1 40l1 34l1 33l2 68l1-70l2 0l1 41l1 40l2 68l1 33l1 34l1-41l1 41l1-69l4 0l1 40l1-18l4 0l1 41l1 40l1 34l1-41l1-18l1 0l1-69l1 33l2 68l1 33l1 34l1-69l1 0l1 40l1-18l2 0l1 40l1-18l1 0l1-69l1 34l1 33l1 34l1 33l1-40l1-18l3 0l1 40l1-18l1 41l1-70l1 41l1-18l1-19l1-18l2 0l1 41l1-19l1-18l1 0l1 41l1 40l1-69l1 41l3 0l1 40l2-36l1-19l1 0l1-69l1-41l1 41l1 34l1-41l2-36l1-19l3 0l1 41l3 0l1-69l1 33l1 34l1-69l11 0l1 40l2-36l1 40l2 68l1 33l2 68l1 33l1 34l1 33l1-40l1-18l1-19l1-18l1 41l1 33l2 68l1 33l1-69l1 41l1 40l1 34l1 33l2 68l1 33l2 68l1 33l1-40l1 40l2 68l1 33l2 68l1 33l1-40l1-19l1 41l1 34l1-41l2-36l1 40l1-40l1-19l1-18l1 41l1 33l1-40l1 40l2 68l1-70l1 41l1-18l1-19l2-36l1 0l1 40l1 41l1-41l1-18l2 0l1-69l1 34l1-41l1-18l1 40l1 34l1-69l2 0l1 40l2-36l1 40l2 68l1-70l1 41l1-18l1 40l1-40l1-19l1-18l1 41l1 33l2 68l1-41l1 0l1 41l1 0l1 40l1-18l1 40l1 34l1-69l1 0l1-70l2 68l1-41l1 41l1-41l1-18l1 41l1-41l3 0l1 41l1-19l1-18l1 41l1 33l1-40l1-18l1-19l8 0l1 41l1 40l1 34l1-41l1 0"/>
<path vector-effect="non-scaling-stroke" d="M0 37l1 40l1-40l1-19l1 41l1-41l1 41l1 34l1 33l1 34l1-41l3-54l1-19l3-54l1 40l1-40l1 40l1 34l1 33l2 68l1 33l1 34l1-69l1 0l1 40l1 41l1 33l1 34l1-40l1-19l1-18l1 41l1-41l1-18l1 0l1 40l1 0l1 41l1-18l1 0l1 40l1-18l1 41l1 33l2 68l1 33l1 34l1-41l1-18l1 41l1 33l2 68l1 33l1 34l1 33l2 68l1-41l2-36l7 0l1-70l1-40l6 0l1 40l1-18l2 0l1-69l1 34l1 33l2 68l1 33l1 34l1 33l1 34l1-69l1-70l2 68l1 33l2 68l1-41l1-18l1 40l2 68l1 33l2 68l1 33l2 68l1 33l2 68l1 33l2 68l1 33l1 34l1 33l1-40l1-18l1 40l2 68l1-41l1 41l1 33l1 34l1-69l6 0l1 40l2-36l1-19l1-18l1 41l1-70l1 41l1 40l2 68l1-41l1 41l1 33l2 68l1 33l2 68l1 33l2 68l1-70l1-69l1 34l1 33l2 68l1 33l1 34l1-69l2 0l1-70l1 34l1 33l1-40l1-18l5 0l1 40l3-54l2 0l1 40l2-36l1-19l2 0l1 41l1-18l1 40l1 34l1-69l3 0l1-70l1 34l1-69l2 0l1 40l2-36l1-19l1 0l1 41l1-18l1 40l2 68l1-41l1 41l1 33l1-69l1 41l1-19l1-18l1 41l1-70l3 0l1 41l1-18l1 40l1-40l1-19l1 41l1-41l1 41l1 34l1 33l2 68l1-41l1-18l1 40l1-40l1-19l1 41l1-69l1 40l1 41l1-41l1 41l1 33l1-69l3 0l1 41l1 40l2 68l1 33l1 34l1 33l1-69l1 0l1 41l1-19l3 0l1 41l1-18l1 40l2 68l1-41l2 0l1 41l5 0l1 40l2-36l1 0l1 40l1-18l3 0l1 41l1 40l1-69l1 0l1 40l1-18l1 41l1 33l1-40l1 40l2 68l1 33l1 34l1-69l3 0l1 40l1 41l1 33l1 34l1-41l4-72l1-19l2-36l1 40l2 68l1-41l1 41l1 33l2 68l1 33l2 68l1 33l1 34l1-41l1 0l1 41l1-18l1-19l1-18l2 0l1 41l1-19l1 41l1 34l1 33l1-40l3 0l1 40l1-18l1 41l1 33l2 68l1-41l2-36l1-19l3-54l1 40l1 34l1 33l1 34l1-40l1 40l1 34l1 33l2 68l1 33l2 68l1 33l2 68l1 33l2 68l1 33l1 34l1-41l1 41l1 33l2-138l1-41l2-36l2 0l1 40l1 0l1-69l1-41l3-54l1 40l1-40l1 0l1-70l2 68l1 33l2 68l1-70l1 0l1 41l1 40l2 68l1 33l2 68l1-70l1 41l1-18l1-19l6 0l2 82l1 33l2 68l1 33l1 34l1 33l1 34l1-69l1 40l1 41l1 34l1 33l1 34l1 33l2 68l1-70l2 0l1 41l2-36l1-19l1 41l1 34l1 33l1-40l1-19l3-54l1 40l2 68l1 33l1 34l1-41l1-18l1 0l1 41l1-19l1 41l1 34l1 33l1 34l1 33l1-40l1-18l4 0l1 40l2-36l1 40l1 34l1-69l1 40l3-54l1 0l1-70l1 34l1-69l1 0"/>
<path vector-effect="non-scaling-stroke" d="M0-23l1 34l1 33l1-40l1-19l1-18l1 41l1 33l1 34l1-69l2 0l1 40l3 0l1 41l1 40l2 68l1-70l1 41l3 0l1 40l2-36l1 41l1-41l1-18l1 0l1-70l2 68l1 33l1-69l1 41l1 40l1 34l1-69l2 0l1 40l4 0l1 41l1-19l1 41l1 34l1 33l1-40l1 40l2 68l1 33l1 34l1 33l2 68l1 33l2 68l1 33l2 68l1 33l2 68l1 33l1 34l1-41l1-18l4 0l1 41l1 40l1 34l1-69l1 0l1 40l3 0l1-69l1 33l2 68l1 33l2 68l1 33l2 68l1-41l1 41l1 33l1 34l1-69l1 40l2-36l1 0l1 40l2-36l3 0l1 40l1 41l1 33l1-40l1-18l1-19l1-18l1 41l1 33l1 34l1-40l1 40l1-40l1-19l2-36l1 40l1-40l1 40l2 68l1 33l2 68l1 33l2 68l1-41l1-18l1 40l1 34l1-41l1-18l1 41l1-41l1 41l1-41l2-36l1 40l1-69l1 40l3-54l1 40l1 34l1-41l2 0l1 41l1-18l2 0l1 40l1 41l1 33l1-69l1 0l1 41l1 40l1-40l1-19l1 41l1 34l1-41l1 41l1-41l1 41l1 33l2 68l1 33l1-69l2 0l1 41l1-19l1 0l1 41l1-18l2 0l1 40l10 0l1 41l1-19l1-18l1 41l1-70l1 41l2-36l1 40l1-69l7 0l1-70l2 68l1-41l2-36l1-19l4-72l1-19l1-18l1 41l1 33l2 68l1-70l1 0l1 41l1-18l1 40l1 34l1-41l1-18l6 0l1 41l1 0l1 40l2-36l2 0l1 40l5 0l1-69l1 34l1 33l1-40l1-19l2 0l1 41l1 40l2 68l1 33l1-69l1 41l1 40l1-69l1 40l2-36l1 41l1-70l2 0l1 41l1 40l1-40l1 40l2 68l1-41l2-36l1 0l1-70l2 68l1-70l5 0l1 41l1-18l1-19l1-18l1 41l1 33l2 68l1 33l1 34l1-41l1-18l1 41l1 33l2 68l1 33l2 68l1 33l1-69l2 0l1 40l1-18l1 0l1 41l11 0l1 40l1 41l1 33l2 68l1 33l2 68l1-41l1 41l1-41l1-18l1 40l1-40l1-18l2 0l1 40l1 41l1-41l1 0l1 41l1-18l1 40l1-40l1 40l1 34l1 33l1-40l1-18l1 40l1 34l1 33l2 68l1 33l2 68l1-41l2 0l1 41l4 0l1 40l3-54l1-19l1-18l8 0l1 41l1-19l1 41l1 34l1 33l2 68l1 33l1-40l1-19l1-18l1 41l1 33l2 68l1 33l2 68l1-70l1 0l1-69l1 34l1 33l2 68l1 33l1 34l1 33l2 68l1 33l1 34l1-40l1-19l1 0l1 41l2 0l1 40l1 0l1 41l1 40l2 68l1 33l1 34l1-40l1-19l2-36l1 40l1 34l1-69l1 0l1 40l1-18l5 0l1-69l1-70l1 41l1 40l2 68l1 33l2 68l1-41l1 0l1-69l1-41l1 41l1-69l2 0l1 40l1 0l1 41l1-19l2-36l1 40l1-40l1 40l1-69l1 41l1 40l1-69l1 40l1 0"/>
<path vector-effect="non-scaling-stroke" d="M0 37l1-19l1-18l1 41l1 33l2 68l1 33l2 68l1-70l1 0l1 41l1 40l1 34l1-41l1-18l1 41l1 33l2 68l1 33l1 34l1-69l1 0l1 40l2-36l2 0l1-70l1-40l1-18l1 0l1 40l1-18l6 0l1-69l1-70l2 0l1 41l1 40l2 68l1-70l2-138l1-70l2 68l1 33l2 68l1 33l2 68l1 33l1 34l1-41l1 0l1 41l1-18l1-19l1-18l5 0l1 41l1-18l10 0l1 40l1 41l1-70l3 0l1 41l1-18l1 40l1 34l1 33l1 34l1-40l1-19l2-36l1 40l2 68l1 33l1 34l1-69l4 0l1 40l1 41l1 33l1 34l1-40l1-19l1 41l1 33l1-69l1 41l1 40l2 68l1 33l1-69l1 0l1 40l2-36l1 41l1 33l1 34l1-41l1 0l1 41l1-18l1-19l1-18l1 0l1 41l1-19l2-36l3 0l1-69l1-41l1 41l1-41l1 41l1 33l1 34l1-69l1-70l2 68l1 33l1-69l1 0l1-69l1 33l2 68l1 33l1-40l1 0l1 40l3-54l1-19l4 0l1 41l1 40l2 68l1 33l1-40l1 40l2 68l1 33l1-40l1 40l2 68l1-70l1 0l1 41l1-18l1-19l1 41l1 34l1 33l1 34l1 33l1-40l1 40l2 68l1 33l1 34l1-40l1-19l1-18l1 41l1 33l2 68l1-70l1-69l1 34l1 33l1 34l1-69l1 0l1 40l1-18l1 40l2 68l1-41l1-18l1 40l2 68l1-41l2-36l1 40l2 68l1 33l2 68l1 33l1-40l1-19l1 41l1 34l1-41l1 41l1 33l2 68l1-70l1 0l1 41l1 40l1 34l1-41l1 41l1-41l1-18l1 41l1 33l1 34l1-41l2-36l1 41l1 33l1 34l1 33l1 34l1-40l1 40l1 34l1 33l2 68l1-41l1 0l1 41l1 40l1 34l1-69l1 0l1 40l2-36l1-19l1 0l2 82l1-70l1 41l1-18l1-19l3-54l1-19l2 0l1 41l1 0l1 40l1 41l1-41l1 41l1-41l3 0l2 82l1-41l1 41l1 33l2 68l1-70l1-69l1 34l1 33l1 34l1 33l2 68l1 33l2 68l1 33l2 68l1 33l2 68l1 33l2 68l1-41l3 0l1-69l1 33l1-69l1 41l1 40l1-40l1 0l1-70l1-69l5 0l1-69l1-70l1 41l3 0l1 40l3-54l1-19l2 0l1 41l1-18l1 0l1 40l3-54l1 0l1 40l2-36l1-19l3 0l2 82l1 33l1-40l6 0l1 40l1 0l1 41l1-18l1-19l1 41l1 33l1-40l1 40l1 34l1-69l3 0l1 40l3-54l1 40l2 68l1 33l1 34l1 33l1-40l1-18l1-19l4 0l1-69l1 34l1 33l2 68l1 33l1 34l1-41l1-18l1 41l1-41l1-18l1 41l1 33l1-69l3 0l1 40l1-18l4 0l1-69l1 34l1 33l1 34l1-41l1 0l1 41l1 40l1 34l1-69l1 40l1 0l1 41l1-18l3 0l1 40l1 41l1-41l1 41l1 33l2 68l1 33l2 68l1-70l1 41l1-18l1-19l3-54l1-19l1-18l1 41l1 33l2 68l1-70l1 41l1-18l1-19l1 0l1 41l1-18l1-19l1 41l1 34l1 33"/>
<path vector-effect="non-scaling-stroke" d="M0 37l1 40l1-18l1 40l2 68l1 33l2 68l1-41l1-18l1 40l1-40l1 40l2 68l1 33l2 68l1 33l1-40l1 40l2 68l1-70l2 0l1 41l1 40l1-40l1 40l1 34l1-69l3 0l1-70l1 34l1-41l1 41l1 34l1-41l1 0l1 41l1-19l7 0l1 41l1-18l2 0l1-70l2 68l1 33l2 68l1 33l2 68l1-41l1-18l1 40l1-40l1 40l2 68l1 33l1-69l1 0l1 41l1-19l2 0l1 41l1 0l1 40l1 41l1 34l1 33l2 68l1-70l1 41l1 40l1 34l1-69l1 0l1 40l1 0l1 41l1-18l3 0l1 40l1 41l1 33l2 68l1 33l1-69l1 0l1 40l1 0l2 82l1 33l1 34l1 33l2 68l1 33l1-69l1 0l1 41l1-19l1 41l1-41l1-18l1 0l1 41l1 40l1 34l1-41l1-18l3 0l1-69l1-41l1-18l1 41l1-41l1-18l1 0l1-69l1 33l1 34l1 33l2 68l1 33l1 34l1-69l2 0l1-70l1 34l1-40l1 40l1 34l1-70l1 41l1 40l1 34l1-40l1-19l1 0l1-69l1 34l1-70l1 41l1 40l2 68l1 33l2-138l1 33l2 68l1 33l1 34l1-69l1-70l1-69l1 0l1 41l1 40l1-40l1 40l1 34l1 33l2 68l1 33l2 68l1 33l2 68l1 33l1 34l1-69l2 0l1-70l2 68l1-41l2-36l1-19l5 0l1-69l1 34l1-41l1 41l1-41l4 0l1-69l1 33l1-40l1 40l1-69l3 0l1 41l1-19l1-18l1 41l1 33l2 68l1-41l3 0l1-69l1 34l1-70l1 41l1-18l1 0l1 40l2-36l1-19l1 41l1-69l2 0l1 40l1 41l1 33l1-40l1-18l1 40l1 34l1 33l1-40l1-18l1-19l1-18l1 41l1 33l1-40l1 40l1 34l1-69l1 0l1 40l1-18l1 41l1 33l1-40l1 40l1-69l1 0l1 40l5 0l1-69l1 34l1 33l2-138l1 33l2 68l1-41l2-36l3 0l1 40l5 0l1 41l1-18l1 40l1 34l1-41l2-36l1 40l1-69l1 0l1 41l1 40l1 34l1 33l1 34l1-41l1-18l1 0l1 41l1-18l1-19l1 41l1 34l1 33l1-40l1 0l1 40l2-36l1 40l1 34l1-69l2 0l1 40l1-18l2 0l1 40l1-18l1 41l1 33l1-40l1-18l1-19l3-54l1-19l1 41l1 34l1 33l2 68l1-70l1 0l1 41l1 40l1-69l1 41l1-19l3-54l1-19l1 41l1-69l1 40l3-54l1-19l2 0l1-69l1 34l1 33l1-40l1-19l1 41l1 34l1-41l1 0l1 41l1 40l2 68l1-41l2 0l1-69l1-70l2 0l1 41l1-18l1-19l1 41l1 34l1 33l2 68l1 33l2 68l1-70l3 0l1 41l1 0l1 40l2-36l1 40l1-69l1 41l1-19l1 0l1 41l3 0l1 40l2 0l2 82l1 33l1 34l1-41l1 41l1-69l1 40l1-18l1 40l2 68l1 33l1-40l1-18l1-19l1 0l1-69l1 34l1 33l2 68l1 33l1-69l1 0l1 40l1-18l1 41l1-70l2 0l1 41l2-36l6 0l1 40l1 41l1 33l2 68l1 33l2 68l1 33l1-40l1-19l3-54l1 40l1-40l1-19l1 41l1 34l1 33l1-40l1 40l1-69l1 41l2 0"/>
<path vector-effect="non-scaling-stroke" d="M0-16l1 33l2 68l1-70l3 0l1 41l1-18l1 40l1-40l1 40l1 34l1-41l1 41l1 33l2 68l1 33l1-40l6 0l1 40l2-36l1 40l1 34l1-40l1 0l1 40l2-36l1 0l1 40l1 41l1 33l2 68l1-41l1 41l1 33l1-40l2 0l1 40l1-18l1 41l1 33l2 68l1-70l4 0l1 41l5 0l1 40l3-54l1-19l1 41l1-69l1-70l1-40l1 40l1-40l1 40l2 68l1 33l2 68l1 33l1 34l1-41l1 0l1 41l1-18l1 0l1 40l3-54l3 0l1 40l1-18l1 40l1-69l2 0l1 41l1 40l1-40l1 0l1 40l2-36l1 40l1-40l1-19l1 41l1 34l1-70l1 41l3 0l1 40l1-18l1 41l1 33l2 68l1-70l1 0l1 41l1 40l2 68l1 33l1-40l1 40l1-40l1-18l1 0l1 40l1-18l1 40l2 68l1-41l1 41l1-70l2 0l2 82l1 33l1 34l1 33l1 34l1-40l1-19l1 41l1 34l1 33l1-40l1-19l1 41l1-41l1 41l1 34l1 33l2 68l1 33l1 34l1 33l2 68l1-70l1 0l1-69l1 34l1 33l1-40l1 40l2 68l1 33l2 68l1-41l1 41l1 33l2 68l1-41l1-18l1 40l2 68l1-70l1-69l1-40l5 0l1 40l1-18l1 40l1-40l1 40l1 34l1-69l2 0l1 40l1 41l1 33l2 68l1-41l1-18l2 0l1 41l1-19l1 41l1 33l1 34l1-40l1-19l1 0l1 41l1 40l2 68l1 33l2 68l1 33l1 34l1-41l1-18l1 41l1-70l1-69l1 34l1 33l2 68l1 33l2 68l1 33l2 68l1 33l1 34l1-41l2-36l2 0l1 40l1-18l2 0l1-69l1-41l1 0l1 41l1-18l1 0l1 40l2-36l1-19l1-18l5 0l1-69l1 34l1 33l1-40l1-19l1 41l1-69l1 40l3-54l4 0l1 40l2-36l1-19l1-18l1 41l1-41l2-36l1-19l1 41l1 34l1-41l1 0l1 41l1 40l1 34l1 33l2 68l1 33l2 68l1-41l2-36l1 40l2 68l1 33l1 34l1 33l1-40l1 40l2 68l1 33l2 68l1 33l1-40l1 40l1-40l1-18l1-19l1-18l1 41l1-70l1 0l1-69l1 34l1 33l1 34l1-41l1-18l1 41l1 33l1-40l2 0l1 40l1 41l1-69l2 0l1-70l1 34l1-41l1 41l1 34l1-41l2-36l2 0l1 40l2 0l1 41l1-19l2-36l1 0l1 41l1-19l1 41l1 34l1 33l1 34l1 33l2 68l1-70l4 0l1 41l1-18l1 40l1 34l1-41l1 41l1 34l1 33l1-40l1-19l4-72l1 0l1-70l2 68l1 33l1 34l1 33l1 34l1-40l1 0l1 40l2-36l1 40l1 34l1 33l1 34l1-40l1-19l1-18l1 41l1 33l2 68l1 33l2 68l1-70l1-69l1 34l1 33l2 68l1 33l1 34l1 33l1-69l1 0l1 41l1-19l1 0l2-138l2 0l1-69l1 33l1 34l1 33l2 68l1-41l2-36l3 0l1 40l1-18l1 41l1 33l2 68l1 33l1 34l1 33l2 68l1-41l1 41l1 33l1 34l1-40l1 0l1 40l1 0l1 41l1 40l1-40l1 40l1 34l1 33l2 68l1 33l1 34l1-41l2-36l1 41l1 33l1 34l1-69l1-70l1 34"/>
<path vector-effect="non-scaling-stroke" d="M0 37l1 33l1-40l1 40l1 34l1 33l2 68l1 33l2 68l1 33l2 68l1 33l1 34l1-41l2 0l1 41l1-18l1-19l2-36l1 41l1-70l2 0l1 41l1-18l1-19l1-18l1 41l1 33l1 34l1-69l1 40l1-18l1 0l1-69l1 33l1-40l1-18l2 0l1 40l2-36l1 40l1 34l1 33l1 34l1-40l1 0l1 40l2-36l1-19l6 0l1-69l1 34l1 33l2 68l1-41l1-18l1 40l1 34l1-40l1 40l1-69l2 0l1 40l1-18l1 41l1 33l1-69l1 40l1-18l1 41l1 33l2-138l1 33l2 68l1 33l2 68l1 33l1-40l1 40l1 34l1-69l1 0l1 40l1 41l1-70l2 82l1 33l1 34l1-41l1-18l1 0l1 41l1 40l1 34l1 33l2 68l1-41l1 41l1 33l1 34l1-69l3 0l1 40l1-18l2 0l1-69l1 33l2 68l1 33l1-40l1-18l1 40l1 34l1 33l1 34l1-41l1-18l1 41l1 33l2-138l1 33l2 68l1-70l1 41l2-36l1-19l2-36l1 40l2 68l1 33l1 34l1-69l1 0l1 40l1-18l1 41l1 33l1-69l1 40l1-18l1 0l1 41l1 40l2 68l1 33l1 34l1 33l1-69l1 0l1 41l1-19l1-18l1 41l1 33l1 34l1-69l1 0l1 40l1 41l1 34l1-41l2-36l1 0l1 40l1-18l4 0l1 40l3-54l2 0l1-70l1-40l1-18l1 40l1 34l1 33l2 68l1 33l1 34l1-69l1 40l1 41l1-41l3 0l1 41l1 40l2 68l1 33l2 68l1-41l1-18l1 40l1 34l1-69l1 0l1 40l3-54l2 0l1 40l1-18l1 40l1-40l1-18l1 40l1-40l2 0l1 40l1 41l1 33l2 68l1 33l2-138l1 33l1-40l1-18l1 40l1 34l1 33l2 68l1-70l1 0l1 41l2 0l1 40l1 41l1-41l1 41l1 34l1 33l1-40l1 0l1 40l2-36l1 40l2 68l1-41l1 41l1 33l1 34l1-41l2-36l2 0l1 40l2 0l1 41l2-36l1-19l1 0l1-69l1 34l1-41l2-36l1 40l1-40l1 40l2 68l1 33l1 34l1 33l1-40l3 0l1-69l1 33l1-40l1 40l2 68l1 33l1-40l1 0l1-70l1 34l1-41l2 0l1 41l1 0l1 41l1 40l1 34l1 33l2 68l1 33l2 68l1 33l1 34l1-41l1 0l1 41l1-18l1 0l1-70l2 68l1 33l2 68l1 33l1-69l1 0l1 40l2-36l1 41l1 33l1 34l1 33l1 34l1-69l4 0l1 40l1-18l1 41l1 33l2 68l1 33l2 68l1 33l1 34l1-41l1-18l1 41l1 33l2 68l1 33l1 34l1 33l2 68l1 33l2 68l1 33l1 34l1-69l1 0l1 40l3-54l1 40l1-69l2 0l1-70l1-69l1 0l1 41l1 40l1 34l1-69l1 40l3 0l1-69l1 33l1-40l1-18l1-19l2 0l1 41l2 0l1 41l1-19l1 41l1 34l1 33l1 34l1-70l5 0l1-69l1 34l1 33l2 68l1 33l1 34l1-40l4 0l1-70l1 34l1 33l2-138l1 34l1 33l1 34l1 33l1-40l1-18l1 40l2 68l1 33l1-40l1-19l1 41l1 34l1-41l1 41l1 33l1-40l1 0l1 40l5 0l1 41l1-18l1-19l4 0l1-69l1 34l1 33l2 68l1 33l1-69"/>
<path vector-effect="non-scaling-stroke" d="M0-23l1 0l1 40l2-36l1 41l1-41l1 0l1-69l1 33l1 34l1-41l1 41l1 34l1 33l1-40l1-18l1 40l1-69l1 0l1 40l3 0l1 41l1 40l2 68l1 33l1-69l1 41l1 40l1 34l1 33l2 68l1-41l2-36l1 40l1-69l1 40l1-18l1 41l1-70l1 41l1-18l1 0l1 40l3-54l1-19l1 0l1-69l1 34l1-41l2-36l1 0l1 40l1 41l1 33l1-40l1-18l1 40l1 34l1-41l1 41l1 34l1-41l1 41l1 33l1 34l1-69l1 40l1 0l1-69l1 33l1-69l1 41l1-19l1 41l1-41l1 41l1-41l1 41l1 34l1 33l2 68l1 33l1-40l1-19l1-18l1 0l1 41l1-19l2 0l2 82l1-70l4 0l1-69l1 34l1-41l1 41l1 33l1 34l1-69l1 0l1 40l1-18l1 40l1 34l1-40l1 40l1 34l1 33l1-40l1-18l1 40l1 34l1-41l1 41l1-70l1 41l1-18l2 0l1 40l1 41l1 34l1 33l1-40l1 0l1 40l2-36l1-19l2-36l1 0l1-69l1-41l1 41l1 33l2 68l1-70l1-69l1 34l1-41l1-18l1 40l1-40l1 40l1-40l1 40l1-69l1 41l1-19l1 41l1 34l1-70l1 0l1 41l1-18l1-19l2-36l1 40l2 68l1-41l1-18l1 41l1 33l1-40l1 40l1-69l1 0l1 40l2 0l1 41l2 0l1 40l1 0l2 82l1 33l2 68l1 33l1-40l1 40l1 34l1 33l1 34l1-69l1 40l3-54l1-19l1-18l1 41l1-41l2-36l1-19l1 41l1-41l1-18l1 0l1-69l1 34l1 33l1 34l1-41l1 41l1 34l1 33l1 34l1-41l5 0l1 41l11 0l1 40l1 0l1 41l1-18l1 40l2 68l1 33l1 34l1 33l1-40l1-18l1-19l1 41l1 34l1-41l1 41l1 33l2 68l1 33l2 68l1-70l1 0l1-69l1 34l1-41l1 0l1 41l1 0l1 40l2-36l1-19l1-18l8 0l1-69l1-41l2-36l5 0l1 40l1 41l1-41l3 0l1 41l1 0l1-69l1-41l1-18l1 40l1-69l3 0l1 41l10 0l1-70l2 68l1 33l2 68l1 33l1 34l1-41l6 0l1 41l1-18l4 0l1 40l1-18l1 40l2 68l1 33l2 68l1-41l1 41l1-41l2 0l1-69l1 33l1 34l1-40l1-19l1 41l1-41l1-18l6 0l1 41l1 40l2 68l1 33l1 34l1 33l2 68l1 33l2 68l1 33l2 68l1 33l2 68l1 33l2 68l1 33l1-40l1-19l1-18l2 0l1-69l1 33l2 68l1-41l1 0l1 41l1-18l1 40l1-40l1-19l1 41l1 34l1 33l1-40l1 40l1 34l1 33l2 68l1-41l3 0l1-69l1 34l1-41l4 0l1 41l1-19l1 41l1-41l1-18l1 41l1 33l2 68l1 33l2 68l1-70l1 41l1-18l1-19l1 41l1-69l1-70l1 34l1 33l1-40l1-18l1 40l2 68l1 33l1 34l1 33l2 68l1 33l2 68l1 33l2 68l1 33l2 68l1 33l1 34l1-41l2 0l1 41l1 0l1 40l1 0l1 41l2-36l1-19l3-54l7 0l1 40l1 41l1 33l1 34"/>
<path vector-effect="non-scaling-stroke" d="M0-16l1-70l9 0l1-69l1 34l1 33l1 34l1-41l3-54l1-19l1 41l1 34l1-41l1 41l1 33l1-40l1 40l1 34l1-41l4-72l1 0l1 40l1 41l1 33l1-69l2 0l1 40l1 41l1 34l1 33l2 68l1-41l1 41l1-41l1-18l3 0l1 40l2-36l3 0l1-69l1 33l1-40l1 0l1 40l1 41l1 33l1-40l1 40l1-40l1-18l1-19l2-36l1 0l1 41l1 40l1 34l1 33l1 34l1-69l2 0l1-70l2 68l1-41l1 41l1 33l1-69l1 0l1-69l1 33l2 68l1 33l2 68l1 33l2 68l1-41l1 41l1 33l1 34l1 33l1 34l1-40l1 40l1 34l1 33l2 68l1 33l2 68l1 33l2 68l1 33l1-69l4 0l1 40l2-36l2 0l1 41l1 40l1 34l1 33l2 68l1 33l2 68l1 33l1-40l1 40l1 34l1-41l1-18l1 41l1 33l1 34l1-69l2 0l1 40l1 41l1 33l2 68l1 33l2 68l1 33l2 68l1 33l2-138l1 33l2 68l1 33l1 34l1 33l1 34l1-69l1-70l2 68l1-70l1 0l1 41l2-36l1 0l1 40l1 0l1 41l6 0l1 40l1-18l1 0l1-69l1 33l1 34l1-41l1 41l1-69l1 40l1 41l1 33l2 68l1-41l2-36l1 40l1 34l1 33l1 34l1-40l1-19l4 0l1 41l1 0l1 40l2-36l1 0l1 41l1 40l1 34l1 33l1 34l1-69l2 0l1-70l2 68l1-41l1-18l1 40l1 34l1-40l1 40l1-40l1 40l1-40l2 0l1 40l1-18l2 0l1 40l1 41l1 34l1 33l2 68l1 33l1 34l1 33l2 68l1-41l5 0l1 41l1-18l1-19l1-18l1 0l1-69l1 33l2 68l1-70l1 0l1 41l1-18l2 0l1-70l2 68l1 33l1-69l1 0l1 41l1 0l1 40l1 41l1-70l3 0l1-69l1 34l1 33l2 68l1-41l2-36l1-19l1-18l2 0l1 41l1 40l1 34l1-41l2-36l1 40l2 68l1-41l2-36l1-19l1 41l1 34l1 33l2 68l1 33l1 34l1-69l1 40l1 41l1-41l1 41l1 33l2 68l1-41l1-18l2 0l1 40l1-18l1 41l1 33l1-40l1-18l1 40l1 34l1 33l1 34l1-40l1-19l1 41l1-41l1 41l1 33l1 34l1-40l1-19l4 0l1 41l1 40l2 68l1-70l2 82l1 33l1 34l1-69l1 0l1 40l1 41l1-41l1 41l1 33l2 68l1 33l1-69l5 0l1 40l3-54l1-19l2-36l1 0l1 41l1 40l1-69l4 0l1 40l3-54l1 0l1 40l1 41l1 33l1-69l1 0l1 41l1 40l1 34l1-41l3 0l1 41l1-18l1 0l1-70l2 68l1 33l2 68l1 33l1 34l1 33l2 68l1 33l1 34l1-41l1-18l3 0l1 41l1-18l1-19l3-54l1 0l1-70l1-40l1-18l1 0l1 40l1 41l1-70l3 0l1 41l1-18l1-19l1-18l1 41l1 33l1-40l2 0l1 40l1 41l1 34l1-70l1 0l1-69l1 34l1 33l1-40l1 0l1 40l1 41l1 33l2 68l1 33l1 34l1-69l1 0l1 40l2-36l1 40l1 34l1-41l1-18l1 41l1-41l1 41l1-41l2-36l1 40l1-69l1 0"/>
<path vector-effect="non-scaling-stroke" d="M0-23l1 40l1 41l1-41l1-18l1 41l1 33l2 68l1 33l2 68l1 33l2 68l1-41l1 41l1 33l1 34l1-41l1 41l1-41l1 41l1-41l5 0l1 41l1 40l1-69l1 41l1 40l2 68l1 33l1 34l1 33l2 68l1 33l2 68l1 33l2 68l1 33l2 68l1 33l2 68l1 33l1 34l1-41l3 0l1 41l1-18l1-19l9 0l1 41l3 0l1 40l4-72l1-19l1 41l1-41l2-36l1 40l1 34l1-41l1-18l1 41l1 33l1-40l1-18l1 40l2 68l1 33l1 34l1-41l1-18l1 41l1 33l1 34l1-41l1 41l1-41l2-36l5 0l1 40l1-18l1 41l1-70l1-69l1-40l1 40l1-40l1 40l1 34l1 33l1-40l1-18l1-19l2-36l1 40l1 34l1-40l1 40l1 34l1 33l1-40l1-18l1-19l1 41l1 34l1 33l1 34l1-41l1 41l1-41l3-54l1 40l1 34l1 33l2 68l1-41l1-18l1 41l1 33l1 34l1-41l1-18l1 41l1 33l2 68l1 33l1-40l1-19l1-18l1 41l1 33l2 68l1 33l1-40l1-18l4 0l1-70l1 34l1-41l1 41l1 34l1 33l1 34l1 33l1 34l1-40l1-19l1 41l1-41l1-18l1 41l1 33l1-40l1-18l1-19l2 0l1 41l7 0l1-69l1 33l1 34l1 33l1 34l1-40l1-19l1 41l1 34l1-70l1 0l1 41l1-18l1-19l2-36l1 40l2 68l1 33l1-40l1-18l1-19l1-18l1 0l1 41l1 0l1 40l1 41l1 33l2 68l1 33l1-69l1 0l1 41l1 40l1-40l3 0l1-70l2 68l1-41l1-18l1 40l2 68l1-70l2 0l1 41l1 40l2 68l1 33l2 68l1-41l1 0l1-69l1 33l2 68l1-41l1 41l1 33l2 68l1 33l1-69l2 0l1-69l1-70l1 41l1 40l1-40l1 0l1 40l1 41l1 34l1 33l1 34l1-41l5 0l1-69l1 34l1 33l1-40l1-18l1-19l2-36l1 40l2 68l1 33l2 68l1-70l1 41l1-18l1 40l1 34l1 33l1 34l1-40l1 0l1-70l1-40l1-19l1 41l1 34l1 33l2 68l1 33l1-40l1-19l2-36l1 0l1-69l1-41l1 41l1 33l1-40l1-18l1-19l2-36l1 40l1-40l4 0l1-69l1 33l1-69l1 0l1 40l1 0l1-69l1 34l1-41l1 0l1 41l1-18l1-19l1 41l1 33l2 68l1-70l2 0l1 41l1-18l1 40l2 68l1-70l1 0l1 41l1 40l2 68l1 33l1 34l1-41l1-18l1 41l1 33l1-40l1-18l1-19l1-18l1 41l1-70l2 0l1 41l1-18l1-19l1 41l1 34l1 33l1 34l1-41l1 0l2 82l1-70l1 41l1-18l1-19l1-18l1 41l1 33l2 68l1-41l2-36l1-19l1-18l1 41l1 33l1-40l1 40l2 68l1-41l2-36l1-19l1-18l1 41l1 33l1 34l1-41l1-18l1 41l1-41l2-36l1 40l2 68l1 33l1 34l1 33l1 34l1-69l3 0l1 40l1-18l1 41l1 33l2 68l1 33l2 68l1-41l2 0l1 41l1 0l1-70l2 68l1 33l1 34l1 33l1 34l1-69l1 0l1 40l1-18l1 0l1-69l1 33l2 68l1 33l2 68l1-41l3 0l1-69l1 33l2 68l1 33l1 34l1-69l4 0l1 40"/>
<path vector-effect="non-scaling-stroke" d="M0-23l1 34l1 33l2 68l1 33l1 34l1 33l2 68l1-41l1 41l1 33l2 68l1-41l1 41l1 33l2 68l1 33l2 68l1-70l1 41l1 40l2 68l1 33l2 68l1-70l2 0l1 41l2 0l1-69l1 33l1-69l1 0l1-69l1-41l3 0l1-69l1 33l1-40l1-18l1-19l1-18l2 0l1-69l1 33l2 68l1-70l1 41l1-18l2 0l1 40l1 0l1 41l1-18l3 0l1 40l1-18l1 40l2 68l1 33l1-40l1 40l2 68l1 33l2 68l1 33l1 34l1-41l1 41l1 34l1 33l1 34l1 33l1 34l1-40l3 0l1 40l2-36l1-19l1-18l2 0l1 41l1 0l1 40l2-36l5 0l1-69l1 33l1 34l1 33l2 68l1 33l2 68l1 33l1 34l1-69l1 40l1-18l3 0l1-69l1 33l1 34l1-41l1 0l1 41l1-18l1 0l1 40l1 41l1 33l2 68l1 33l2 68l1 33l1-69l1 0l1 41l1 40l1-40l1-19l3-54l1 40l2 68l1 33l1 34l1 33l2 68l1-70l2-138l1-70l2 68l1 33l2 68l1 33l1 34l1-41l1 0l2 82l1 33l2 68l1 33l1 34l1 33l2 68l1 33l1 34l1-41l1 41l1 34l1 33l1 34l1-69l1 0l1 40l1 0l1 41l1 40l1 34l1-41l1-18l1 41l1 33l2 68l1 33l1 34l1-41l3-54l1-19l1 41l1-41l1 41l1 34l1-41l1-18l1 40l2 68l1 33l1 34l1-41l1 41l1 34l1 33l1 34l1-69l1 40l1 0l1 41l1 40l1 34l1-69l1 40l2-36l3 0l1 40l1 41l1 33l2 68l1-41l1 41l1 33l2 68l1 33l1 34l1-41l2 0l1-69l1-40l4 0l1 40l1 0l1 41l1 40l2 68l1 33l1 34l1-41l1 0l1-69l1 34l1 33l2 68l1 33l1-40l1 40l1-69l2 0l1 40l2-36l1 41l1-70l2 0l1 41l1-19l1-18l6 0l1 41l1-18l1-19l1-18l1 41l1 33l2 68l1-70l1 41l1 40l1 34l1-41l1-18l6 0l1 41l1 40l1 34l1-41l1 41l1 34l1-41l1-18l2 0l1-69l1-41l1 41l1 33l1 34l1 33l2 68l1-41l2 0l1 41l1 40l2 68l1 33l1-40l1-19l2 0l1 41l2-36l2 0l1 40l2-36l1-19l1-18l1 41l1 33l1 34l1-41l1 41l1 34l1 33l2 68l1-41l2-36l1-19l2-36l1 0l1 40l6 0l1 41l2-36l1-19l1-18l1 41l1 33l1-69l4 0l1 41l1-19l2-36l1 40l1-69l2 0l1 41l5 0l1-70l2 68l1 33l2 68l1-41l1-18l1 40l1-40l1 40l2 68l1-70l1 0l1-69l1 34l1 33l1 34l1-41l1-18l1 41l1 33l1 34l1-41l2-36l1 40l2 68l1-41l4 0l1-69l1 34l1 33l2 68l1-41l1-18l1 40l1-40l1 0l1 40l1 41l1 33l1 34l1-69l1 0l1 40l1-18l7 0l1 41l1 40l1 34l1 33l1-40l2 0l1 40l1 41l1 34l1 33l1-40l1 40l1-40l1-18l1-19l4 0l1-69l1 34l1-70l1 41l1 40l1 34l1-40l1-19l1 0l1 41l1 40"/>
<path vector-effect="non-scaling-stroke" d="M0 37l4 0l1 40l1-18l1 40l2 68l1 33l1-40l1 40l1 34l1-69l1 40l1 41l1 33l2 68l1 33l1-69l1 0l1-69l1 33l2 68l1 33l1-40l1-18l1 40l1 34l1-41l2-36l2 0l1 40l1-18l1 41l1 33l1-40l1 40l2 68l1-70l1 41l2 0l1-70l2 68l1 33l1-40l1-18l1-19l1 41l1 34l1 33l2 68l1 33l1-40l1-19l1 41l1-41l1-18l1 41l1 33l1-40l1-18l1 40l1 34l1 33l1-40l1-18l1-19l2-36l1 40l1-40l6 0l1 40l1 0l1-69l1 34l1 33l2 68l1 33l1 34l1-41l3-54l10 0l1 40l1 41l1 34l1-41l1 41l1 33l1 34l1 33l1-40l1-18l1 40l2 68l1 33l1 34l1 33l1-40l1 40l2 68l1-41l3-54l1 40l1 34l1 33l1-40l1-18l1-19l1-18l3 0l1 41l1-19l1 41l1 34l1 33l1-40l1-18l1 0l1 40l1 41l1-41l1-18l1 40l2 68l1 33l2 68l1 33l2 68l1 33l1 34l1 33l1-69l1 41l5 0l1-70l2 68l1 33l2 68l1-41l2-36l1-19l1 0l1 41l1-18l1-19l1 41l1 34l1-70l5 0l1-69l1 34l1 33l2 68l1-41l1 41l1 33l2 68l1 33l2 68l1 33l1 34l1 33l1-69l2 0l1 41l1 40l2 68l1-41l1 41l1-41l1 41l1 33l1 34l1 33l2 68l1 33l2 68l1-41l1 41l1 33l2 68l1 33l2 68l1 33l1 34l1-69l1 0l1 40l1 41l1-41l1-18l1 0l1-69l1-41l1 0l1 41l1-19l3-54l1-19l1-18l1 0l1-69l1 34l1 33l1 34l1 33l2 68l1 33l1-40l1-18l1 40l1-40l5 0l1-70l1-69l1 41l1 40l1 34l1 33l1-69l1 41l1-19l1 41l1-41l2-36l1 40l2 68l1 33l2 68l1 33l2 68l1-41l1-18l1 40l2 68l1-41l1-18l1 40l1 34l1-40l1 40l1 34l1 33l1-40l1 40l2 68l1-70l1 41l1-18l1 40l2 68l1 33l1 34l1 33l2 68l1 33l2-138l1 33l2 68l1-41l2-36l1-19l1 41l1 34l1 33l1-69l1 0l1 41l1-19l1 41l1 34l1-70l5 0l2-138l3 0l1-70l1 34l1-69l3 0l1 40l1-18l2 0l1 40l1 41l1-69l1-70l2 68l1 33l1-40l1-18l1 0l1 40l1 41l1-70l1 0l1 41l3 0l1 40l1 41l1 34l1 33l1 34l1-69l1 40l1 41l1-41l1 41l1 33l2 68l1-41l1-18l1 0l1 40l1-18l1 41l1 33l1-40l1-18l2 0l1-70l1 34l1-41l1-18l4 0l1 41l1-19l4-72l1 40l1-69l1 40l1 41l1 33l2 68l1-70l1 0l1 41l2-36l2 0l1 40l1 41l1 33l2 68l1 33l1-40l1 40l2 68l1 33l1 34l1-41l1-18l1 41l1 33l2 68l1 33l1-40l3 0l1 40l1 0l2-138l4 0l1-70l1-69l2 0l1-69l1 33l2 68l1 33l1-69l3 0l1-69l1 33l2 68l1-41l1 41l1 33l1 34l1 33l2 68l1 33l1-40l1-18l1-19l1 0l1 41l1-18l1 40l1 34"/>
<path vector-effect="non-scaling-stroke" d="M0-16l1-19l2-36l1 0l1 41l1-19l1 0l1 41l1 0l1 40l1-18l1 0l1-69l1 33l1 34l1-69l1 0l1 40l2-36l1 40l1 34l1-40l1-19l1 41l1 33l2 68l1-70l1 0l1 41l2-36l1-19l1 41l1-69l1 40l2-36l1-19l1 41l1 34l1 33l2 68l1 33l1-40l1-19l1-18l1 41l1 33l2 68l1-41l2-36l1-19l1 41l1 34l1 33l2 68l1 33l1-69l5 0l1-69l1 33l2 68l1 33l1-40l1-19l2-36l3 0l1 40l1-18l1 0l1 41l1-18l1 40l1 34l1-41l3-54l1 40l1-40l1-19l3-54l1 40l1 34l1 33l2 68l1 33l2 68l1 33l1-40l1 0l1 40l1 41l1-41l3-54l1 40l1 34l1 33l2 68l1 33l1-40l1-18l1 40l1 34l1 33l2 68l1 33l1 34l1-69l1-70l1 34l1-40l1-19l1 41l1-41l1 41l1 33l1-40l1-18l1 40l2 68l1 33l1-40l1 40l1 34l1 33l2 68l1-41l1-18l1 41l1 33l1 34l1-69l1 0l1 40l1 41l1 33l1-69l1 40l1-18l2 0l1 41l1 40l2 68l1 33l1 34l1-41l1-18l1 41l1 33l1-40l1 40l2 68l1 33l2 68l1-70l1 0l1 41l1-18l1-19l1 0l1 41l1-18l1-19l1-18l2 0l1 41l1-18l1-19l1 0l1 41l5 0l1 40l1 41l1 34l1-41l2 0l1 41l1 0l1-70l1-40l4 0l1 40l2-36l3 0l1-70l2 68l1 33l2 68l1 33l2 68l1-70l1-69l1 34l1 33l1 34l1-69l2 0l1 40l1-18l1 41l1 33l1 34l1 33l2 68l1 33l2 68l1 33l2 68l1 33l2 68l1 33l1-40l1-19l1-18l1 41l1-41l2-36l1 0l1 40l3-54l1-19l1 0l1-69l1-40l1 40l1 34l1 33l2 68l1 33l1-40l2 0l1 40l2-36l1 0l1-69l1 33l1 34l1 33l1-40l1 40l1 34l1-40l1 40l1-69l5 0l1 40l1-18l5 0l1-69l1 33l1-40l1 40l2 68l1 33l2 68l1-70l1 0l1-69l1 34l1 33l1-69l2 0l1 41l1 0l1 40l2-36l1 0l1 40l1 41l1 33l1-69l1 0l1-69l1 33l2 68l1-41l1-18l1 40l1 34l1-40l1-19l1-18l3 0l1-69l1 33l2 68l1-41l1 41l1-41l1-18l1 0l1 40l1 0l1 41l1 0l1 41l2 0l1-70l1-69l2 0l1-69l1-41l1 41l1 33l2 68l1 33l2 68l1 33l1-69l1 40l1 41l1 34l1-70l2 0l1-69l1 34l1 33l1-69l1 41l1-19l1 0l1 41l1 0l1 40l1 41l1-41l1-18l3 0l1 41l1 40l1 34l1-41l1 0l1-69l1 34l1-70l1 41l1-18l1 40l1 34l1 33l2 68l1 33l2 68l1 33l2 68l1-70l1-69l1 34l1 33l1-69l2 0l1-69l1 33l2 68l1 33l2 68l1 33l1 34l1-69l1 40l1-18l1 0l1-69l1 33l1-40l1-19l1-18l5 0l1-69l1 34l1 33l1 34l1 33l2-138l1 34l1-41l1-18l1-19l1-18l1 41l1-41l3-54l1-19l1 41l1 34l1 33l1-40l2 0l1 40l2-36l1-19l4-72l1 40l1-69l1 0l1 40l1-18l1 0l1 41l1 40l1 34l1 33l1-40"/>
<path vector-effect="non-scaling-stroke" d="M0 37l1 0l1 40l3 0l1 41l3 0l1 40l2-36l1 40l1 34l1-69l1 40l2-36l1-19l1 0l1 41l1 0l1 41l1 40l1-69l1 40l1 41l1 34l1 33l1-69l1 40l1 41l1 34l1-70l1 41l1 40l1 34l1-41l1-18l1 0l1-69l1 34l1 33l1-40l1-19l4-72l1 40l1 34l1 33l1 34l1-41l1 0l1 41l2-36l1 40l1-40l1-19l2-36l1 40l2 68l1-41l1-18l1 0l1-69l1 33l1-40l1-19l1-18l2 0l1 41l1 40l1 34l1-69l2 0l1 40l2-36l1 40l1 34l1-69l1 0l1-70l1 34l1-41l1-18l6 0l1 41l1-19l2-36l1 41l1 33l1 34l1 33l1-40l1 0l1-69l1 33l2 68l1 33l2 68l1-41l1 41l1 33l1 34l1 33l1 34l1-69l1 0l1 40l1 41l1 34l1 33l1 34l1 33l2 68l1 33l1-40l1-18l1-19l2-36l2 0l1 40l3-54l1 40l2 68l1-41l1-18l1 40l1 34l1-69l2 0l1 40l2 0l1 41l1-18l1-19l1-18l1 41l1 33l2 68l1 33l1-40l1 40l1-40l1 0l1 40l3-54l2 0l1-70l1 34l1-41l1-18l5 0l1 41l1 40l2 68l1 33l1 34l1 33l2 68l1-41l1-18l1 0l1 41l1 40l1 34l1 33l2 68l1 33l1-40l1 40l2 68l1 33l2 68l1 33l1-69l1 40l1-18l2 0l1 41l1-19l4 0l1 41l1-18l1 40l1-40l1 40l2 68l1 33l1-69l3 0l1 41l1 40l1-69l1-70l2 68l1 33l1 34l1-41l1 41l1 34l1 33l1 34l1-41l3 0l2 82l1 33l1 34l1 33l1 34l1-40l1-19l2-36l1 40l2 68l1-70l3 0l1 41l1 40l2 68l1-41l3-54l1 40l1-40l1-19l1 41l1 34l1 33l1 34l1-41l3-54l1 40l1 34l1 33l2 68l1-41l1 0l1 41l1-19l1-18l1 41l1 33l2 68l1 33l1 34l1-69l1 40l2-36l1 40l2 68l1-41l3 0l1-69l1 33l2 68l1 33l1-40l1-18l2 0l1 40l1 41l1 33l1 34l1-41l1-18l7 0l1 41l2 0l1 40l1 41l1-70l2 0l1-69l1 34l1-41l1 41l1 33l2 68l1 33l1-40l1-18l1-19l2-36l4 0l1 40l3-54l1 40l1 34l1-69l6 0l1 40l1 41l1 33l2 68l1 33l2 68l1 33l2 68l1 33l1-40l1-19l4 0l1 41l8 0l1 41l1-19l1 0l1-69l1 34l1 33l2 68l1 33l1 34l1-69l1 40l1-18l1 40l1 34l1-69l4 0l1-70l2 68l1 33l2 68l1-41l2-36l1 0l1 40l1 0l1 41l1 40l2 68l1 33l1-69l6 0l1 40l1-18l2 0l1 41l1-18l1-19l3 0l1 41l1 40l1 34l1-40l1 40l1 34l1 33l2 68l1 33l1-40l1 40l2 68l1 33l1-40l1 40l1-69l2 0l1 40l1 41l1 34l1 33l1-40l1 40l2 68l1 33l2 68l1 33l2 68l1 33l1 34l1 33l1-40l1-18l3 0l1 40l1-18"/>
<path vector-effect="non-scaling-stroke" d="M0-23l1 34l1 33l2 68l1 33l1-40l1-19l1-18l2 0l1-69l1 34l1-70l1 41l1-18l1-19l3 0l1 41l1 40l2 68l1 33l1 34l1-69l2 0l1 40l2-36l1 40l2-138l1 33l2 68l1 33l1-40l1 40l2 68l1-41l1 41l1 33l1 34l1 33l1-40l1-18l1-19l1-18l1 41l1 33l2 68l1 33l1 34l1-41l1 41l1-41l1 41l1-41l4-72l1 40l1 34l1 33l1-40l1-18l1 40l1-69l1 0l1-69l1-41l1-18l1 40l2 68l1 33l1-69l1 40l4-72l1 40l1 34l1-70l4 0l1 41l1-18l1-19l1 0l1 41l2-36l1 0l1 40l2-36l1 40l1 34l1-69l1 0l1 40l2-36l1 40l1 34l1 33l1 34l1-69l1 40l1 41l1 34l1 33l1-40l1 0l1-70l2 68l1-41l1-18l1 40l2 68l1 33l1-40l1-18l1-19l2-36l1 0l1 40l1-18l1 0l1 41l1-19l1-18l1 41l1-41l1 41l1 33l2 68l1 33l2 68l1-41l1 41l1 33l1 34l1-41l1 0l1 41l1-18l1-19l3 0l1 41l1-18l1 40l1-40l1 40l2 68l1 33l2 68l1 33l1 34l1-41l1 41l1 34l1 33l1 34l1-41l1-18l3 0l1-69l1 33l2 68l1-70l1 41l1 40l1 34l1-69l1 40l1 0l1-69l1 34l1 33l1-40l1-18l1 40l1 34l1 33l2 68l1-70l2 0l1-69l1 34l1 33l2 68l1-41l1 41l1-41l1 41l1-70l5 0l1 41l1 0l1 40l2-36l1 40l2 68l1 33l1-40l1 0l1-69l1 33l2 68l1-41l1 41l1 33l1-69l1 0l1 40l1-18l1 0l1 41l2 0l1 40l1-18l1 41l1 33l2 68l1 33l1 34l1 33l1 34l1-69l1-70l2 68l1 33l2 68l1 33l1-40l1 40l1 34l1-41l1 0l1 41l2-36l1 40l1-40l1-19l2-36l1 40l1-69l1 41l1-19l3-54l4 0l1 40l2 0l1 41l1-18l4 0l1 40l1-18l1 40l1 34l1-40l1 0l1 40l1-18l2 0l1 40l1-18l4 0l1 41l1-19l3-54l1 40l2 68l1 33l1 34l1-41l1 41l1 34l1 33l1 34l1 33l1 34l1-69l1 0l1 40l1 41l1 34l1 33l1 34l1 33l1 34l1-40l1-19l1-18l1 0l1 41l4 0l1 40l1-18l1 0l1 41l1 40l1 34l1 33l2 68l1 33l1 34l1-41l1 41l1-41l2-36l1 41l1-70l1 0l1 41l3 0l1 40l1 41l1 33l1 34l1-40l1 0l1 40l1 0l1 41l1-19l1 41l1 34l1 33l2 68l1 33l2 68l1 33l1 34l1 33l1-69l3 0l1 41l1 40l1 34l1-41l1-18l1 41l1 33l1 34l1-41l2-36l1 40l1-40l1-18l4 0l1-70l1-40l1-18l1 40l1 34l1 33l1 34l1-40l1 40l1-40l1-19l1 41l1 34l1 33l1 34l1 33l1 34l1-69l1-70l1-40l3 0l1-69l1 33l2 68l1 33l1-40l1-19l1-18l1 41l1 33l1-40l1-18l1 40l1 34l1 33l1-69l5 0l1-69l1 33l2 68l1-70l1 41l1-18l1 40l2 68l1 33l2 68l1-41l1 41l1-41l1-18l1 40l1-40l1 0l1 40l1 41l1 33l1 34l1-69l2 0l1 40l1 41l1 34l1 33l2 68l1 33l1 34l1-41"/>
<path vector-effect="non-scaling-stroke" d="M0-16l1 33l1 34l1-69l1 40l1-18l4 0l1 41l1-19l1-18l1 0l1 41l1-19l1-18l1 41l1 33l1 34l1-69l4 0l1-70l2 68l1 33l1-40l1-19l1-18l1 41l1 33l1-69l7 0l1 41l1 0l1-70l1-40l1 40l1 34l1-41l2-36l1 41l1 33l1 34l1 33l2 68l1 33l2 68l1 33l1-40l1-18l1-19l2 0l1 41l1 40l2 68l1 33l1-40l1-18l1 40l1 34l1-41l1 41l1 33l1-40l1-18l1-19l3-54l1 0l1 40l3-54l1 0l1 40l1-18l4 0l1 40l1-18l1 41l1-70l1 41l2-36l1-19l2-36l6 0l1-69l1 33l1 34l1-41l5 0l1-69l1 34l1 33l1 34l1-41l1 41l1 34l1-70l1-69l1-41l1 41l1 34l1 33l2 68l1 33l1 34l1 33l1-40l1-18l1 40l2 68l1-70l1 0l1 41l1 40l2 68l1-41l1 41l1-70l8 0l1 41l1 0l1 40l1-18l1 41l1-41l2-36l1-19l1 0l2 82l1 33l1-40l1 40l1-40l1 0l1 40l3 0l1 41l1 40l2 68l1 33l1-69l3 0l1 40l2-36l1 41l1-70l1 0l1 41l1 40l1-40l1-18l2 0l1 40l1 41l1 33l1-69l1 0l1 41l1-19l2-36l7 0l1 40l3-54l1 0l1-70l1-69l9 0l1 41l1-19l1-18l3 0l1 41l1-19l1-18l1 41l1 33l2 68l1 33l1-40l1-18l1 40l1-40l1-19l1 41l1 34l1 33l1 34l1 33l2 68l1 33l2 68l1 33l2 68l1 33l1 34l1-41l1-18l1 41l1 33l2 68l1 33l2 68l1-70l1 41l1 40l2 68l1 33l1-40l4 0l1 40l3-54l1-19l1-18l1 0l1-69l1 33l2 68l1 33l2 68l1 33l2 68l1 33l1-40l1-18l1 40l1 34l1 33l2 68l1 33l1-40l1-18l1-19l1 41l1 33l2 68l1 33l1 34l1-69l1 40l1 41l1 34l1 33l1 34l1 33l1 34l1-40l1-19l2-36l2 0l1-69l1-41l1 41l1 33l1 34l1 33l1 34l1-40l1 40l1 34l1 33l1-69l1 0l1-69l1 33l1-69l2 0l1 41l1 40l1-69l1 0l1-69l1 33l2 68l1 33l1 34l1 33l2 68l1 33l1 34l1-69l7 0l1 40l1 41l1 33l1-40l1 40l1 34l1-40l6 0l1 40l1 0l1 41l9 0l1 40l5 0l1 41l1-18l1-19l3 0l1-69l1 34l1 33l2 68l1-70l1 0l1 41l1-18l1 40l1-69l2 0l1 40l1 41l1-69l1-70l2 68l1 33l2 68l1 33l1-40l1-19l3-54l1 40l1 34l1-41l1-18l4 0l1 41l1 0l1 40l1 41l1 33l1 34l1-69l2 0l1 40l1 41l1 33l2 68l1 33l2 68l1-41l1 0l1 41l3 0l1 40l1-18l1 41l1-41l1-18l1 40l1-69l1 41l1-19l2-36l1 40l2 68l1 33l2 68l1 33l2 68l1 33l2 68l1 33l1 34l1 33"/>
<path vector-effect="non-scaling-stroke" d="M0 37l1 0l1 40l1 41l1 33l2 68l1 33l1 34l1-41l3-54l1 40l1-40l1 40l1 34l1-41l2-36l1 0l1-69l1 33l1-69l1 40l1-18l1 41l1-41l2-36l1-19l2-36l1 41l1-41l2-36l1-19l1 0l1 41l1-18l1-19l1-18l1 41l1-41l1-18l1 40l2 68l1 33l2 68l1 33l2 68l1 33l1 34l1-41l3 0l1 41l1 40l1-69l1 0l1 41l1 40l2 68l1-70l2 0l1 41l3 0l1 40l3-54l1-19l1-18l4 0l1 41l1-19l1 41l1-69l3 0l1 40l2-36l1 0l1 40l1 41l1 34l1 33l1-69l1 0l1 40l1 0l1 41l1-18l1-19l1 41l1-69l4 0l1 40l1 41l1 33l1-69l1 41l7 0l1 40l1-18l1 0l1 41l1 40l1 34l1 33l1-69l1 0l1 41l1-19l1 41l1 34l1 33l2 68l1 33l1 34l1-41l2 0l1 41l1 0l1 40l6 0l2-138l1 0l1 40l4 0l1 41l1 40l2 68l1 33l2 68l1 33l1-69l1 0l1 41l1 40l1-40l5 0l1 40l1-18l1 40l1-40l1-18l1 40l1 34l1 33l2 68l1-41l1-18l1 40l1-69l2 0l1-69l1 34l1-70l1 41l1-18l1-19l1 41l1-41l1 0l1 41l1-18l1-19l3-54l1 0l1 40l1-18l1 0l1 41l1 40l1-69l1 40l2 0l1 41l1 40l1 34l1-41l1 41l1 34l1 33l2 68l1 33l2 68l1 33l1-40l1-19l1-18l1 41l1 33l2 68l1 33l1 34l1-41l2-36l1 41l1 33l1-40l1-19l1 41l1 34l1-41l2-36l1 40l1 34l1 33l1 34l1-40l1-19l1-18l1 41l1-70l1 0l1 41l1 40l1-69l1 0l1 41l1-19l1 41l1 34l1 33l1-69l1 0l1 40l1-18l1 41l1 33l2 68l1 33l2 68l1-41l1 0l1 41l1-19l2 0l1 41l1 0l1 41l1 40l1 34l1 33l2 68l1-41l2-36l1-19l1-18l1 41l1 33l2 68l1 33l1-40l1-18l1-19l17 0l1 41l1 0l1 40l2-36l4 0l1 40l4 0l1 41l1-18l1 40l2 68l1 33l2 68l1 33l2 68l1 33l1 34l1-70l1 0l1-69l1 34l1 33l2 68l1 33l2 68l1 33l2 68l1 33l1-40l1-18l1-19l2-36l1 40l1-69l1 0l1-69l1-41l1 41l1 33l2 68l1 33l2 68l1-70l6 0l1 41l1 0l1 40l1-18l1 41l1-41l1-18l1 40l2 68l1 33l2 68l1 33l2 68l1 33l2 68l1 33l2 68l1 33l1 34l1 33l1-69l3 0l1-69l1 33l1-40l1 40l2 68l1 33l2 68l1 33l2 68l1 33l2 68l1 33l1-40l1 40l1 34l1-69l1 0l1 40l2-36l1 40l1-40l1 40l1-40l1 40l2 68l1 33l1-40l1 0l1 40l2-36l1-19l1 41l1-41l4-72l1-19l1 41l1 34l1 33l1 34l1 33l1 34l1-40l4 0l1 40l2-36l1-19l1 0l1 41l1-18l1-19l2-36l1 41l1 33l1 34l1-41l3 0l1-69l1 34l1 33"/>
<path vector-effect="non-scaling-stroke" d="M0 37l1 40l1-18l1 40l2 68l1 33l2 68l1 33l1-40l1-18l1-19l1 41l1 33l1-40l2 0l1 40l2 0l2 82l1 33l1-40l1 40l2 68l1 33l1 34l1 33l2 68l1-70l2 0l1 41l1 0l1-69l1 33l2 68l1 33l2 68l1 33l1 34l1-69l1-70l2 68l1 33l1 34l1-70l2 0l1-69l1 34l1 33l2 68l1 33l2 68l1 33l2 68l1 33l2 68l1-70l3 0l1-69l1 34l1 33l1-69l1 40l4-72l1 40l1-40l1-19l1 41l1 34l1 33l1-69l1 40l2 0l1 41l1 40l1-40l2 0l1 40l1 41l1 34l1 33l2 68l1-41l2-36l1 40l1-40l1-19l1-18l5 0l1 41l10 0l1 40l1-18l1 0l1 41l1 0l1 40l2-36l1 40l1-69l1 0l1 40l3 0l1 41l1-18l1 40l2 68l1 33l1-69l1 0l1 40l1-18l3 0l1-69l1-41l2-36l6 0l1-69l1-70l1 41l1-18l1-19l1-18l1 41l1-70l1 41l1-18l1 40l1 34l1 33l1 34l1-40l1-19l2-36l1 0l1 40l1 0l2 82l1 33l1 34l1-41l1-18l1 41l1-41l1-18l2 0l1 40l3-54l2 0l1-70l2 68l1 33l1 34l1-41l1-18l1 0l1 41l1 40l1 34l1-69l1 0l1 40l1-18l1 40l2 68l1-41l3-54l1 40l1 34l1 33l2 68l1-70l2 0l1-69l1 34l1 33l1 34l1-41l3-54l1 40l1 34l1-41l1-18l1 41l1 33l2 68l1 33l2 68l1-70l4 0l1 41l4 0l1 40l1-18l1 41l1-70l1 41l1-18l1 0l1 40l1-18l1 41l1 33l1-69l4 0l1 40l1-18l1 41l1-41l1 41l1 33l1 34l1-41l2-36l1 0l1 41l1 40l1 34l1-70l1-69l1 34l1 33l1-40l1-18l1-19l2 0l1 41l1 0l1-69l1 33l1-40l1-19l1 0l1-69l1 34l1 33l2 68l1 33l2 68l1 33l2 68l1 33l2 68l1-41l1-18l1 40l1 34l1-41l2-36l1 41l1 33l1-69l1 0l1-69l1-41l1-18l6 0l1 40l1 0l2-138l1-70l2 68l1 33l2 68l1 33l2 68l1 33l1 34l1-69l2 0l1 40l2-36l8 0l1 40l2-36l1 40l2 68l1-70l1-69l1-41l2-36l1 40l2 68l1-70l1 41l2 0l1-69l1 33l2 68l1-41l1 41l1 33l1 34l1-41l1 41l1 34l1 33l1-40l1 40l1-40l4 0l1 40l2-36l1 40l2 68l1 33l2 68l1 33l1 34l1 33l1-40l1-18l1 40l1-69l10 0l1 40l1 41l1-41l4-72l1 40l1-69l1 40l1 0l2-138l6 0l1-70l2 68l1-41l1 41l1 33l2 68l1-41l2-36l2 0l1 40l3 0l1 41l1 40l1-69l3 0l1 40l1 41l1 34l1 33l2 68l1-70l3 0l1 41l1 0l1 40l1-18l6 0l1 41l1-19l3 0"/>
<path vector-effect="non-scaling-stroke" d="M0-23l3 0l1 40l1-18l1 41l1-70l1 41l1 0l1 41l1-19l3-54l1 40l1-40l1-19l1 41l1-41l2-36l1 41l1-41l1 41l1 33l1 34l1-41l1 41l1-41l1 41l1 33l2 68l1 33l2 68l1 33l2 68l1 33l1 34l1-41l2-36l1 40l2 68l1-41l1 41l1-41l1 41l1 33l2 68l1 33l1-69l10 0l1 41l1 0l1 40l2-36l1 40l1 34l1-41l1-18l1 41l1-41l1 41l1 33l2 68l1 33l1-40l1 40l1-69l1 0l1 40l1-18l1 41l1 33l1 34l1-69l1 40l1 41l1-41l1 41l1 33l2 68l1 33l1-40l1-18l1 0l1 40l1 41l1-70l5 0l2 82l1 33l1 34l1 33l1-40l1-18l1-19l3-54l1 40l1 34l1-41l1-18l2 0l1-69l1 33l2 68l1 33l1-40l1 40l2 68l1-41l1 41l1 33l2 68l1 33l1-69l3 0l1 41l1-19l1-18l1 41l1-70l1 0l1 41l1-18l1-19l4 0l1-69l1 34l1 33l2 68l1-41l2-36l1 40l1-69l1 40l3-54l1 40l1 34l1-41l1-18l1 41l1 33l1 34l1-41l1 0l1 41l1 0l1-69l1 33l2 68l1 33l2 68l1 33l2 68l1 33l1-40l2 0l1-70l1 34l1-41l3-54l1-19l2-36l1 41l1 33l1-69l5 0l1-69l1 33l1 34l1-41l3-54l1-19l1 41l1 34l1-41l1 41l1 33l1 34l1-41l3-54l1-19l3-54l1-19l3-54l1 0l1-70l2-138l1 33l1-40l1-18l1-19l1-18l1 41l1 33l2 68l1 33l2 68l1 33l2 68l1-41l1 0l1 41l1 40l1 34l1 33l1-69l1 0l1 41l3 0l1 40l1-18l1 41l1 33l1 34l1-41l7 0l1 41l1 40l2 68l1 33l2 68l1-41l2-36l1 0l1 40l1 41l1 33l1 34l1-41l1-18l1 41l1 33l2 68l1 33l1-40l3 0l1 40l2-36l1 40l1 34l1-40l1 40l1 34l1 33l2 68l1 33l1-40l1 0l1 40l1 41l1 34l1 33l1 34l1 33l2 68l1 33l1 34l1-69l1 0l1 40l3 0l1-69l1 34l1 33l2 68l1 33l1 34l1 33l2 68l1 33l1-40l1-18l1 40l1 34l1 33l1 34l1-40l1 40l1 34l1 33l1-69l1 0l1 41l1 0l1 40l1 0l1 41l1 0l1 40l3-54l1 40l1 34l1 33l2 68l1-70l3 0l2 82l1 33l1 34l1 33l2 68l1 33l2 68l1-41l1-18l1 40l1-40l1 0l1 40l1 41l1 34l1-41l1 41l1 33l2 68l1 33l2 68l1 33l1 34l1-69l1 40l4 0l1 41l1 40l1-40l1-19l1 41l1-41l1 41l1 34l1 33l2 68l1 33l1 34l1 33l1-69l5 0l1 41l1-19l1 0l1 41l3 0l1-69l1 33l1 34l1-41l1-18l3 0l1 41l1 0l1 40l1-18l1 41l1 33l1 34l1-41l1-18l1 41l1 33l2 68l1-70l1 0l1 41l1-18l1 40l1 34l1-41l1-18l1 41l1 33l1 34l1-41l9 0l1 41l1 40l1 34l1-40l1-19l1 0l1 41l1-18l1-19l1 41l1 34l1 33l1-69"/>
<path vector-effect="non-scaling-stroke" d="M0-23l1 34l1 33l2 68l1 33l1 34l1 33l1-40l1-18l1 40l1 34l1-41l1 41l1 34l1 33l1-40l1 40l1 34l1 33l2 68l1 33l1 34l1-40l1-19l1-18l1 41l1 33l2 68l1 33l1 34l1 33l1-40l1-18l1 40l1 34l1-69l7 0l1 40l1 41l1 33l2 68l1 33l1-40l1 40l1-40l1-19l2-36l1 41l1 33l1-40l1 40l2 68l1 33l1-40l1-19l1 0l1-69l1 34l1 33l2 68l1 33l2 68l1-41l1 41l1 33l1-40l1-19l2 0l1 41l3 0l1 41l1-19l1-18l1 41l1-70l2 0l1 41l1-18l1-19l1-18l1 41l1 33l2 68l1 33l2 68l1 33l2 68l1-41l1 41l1 33l1 34l1 33l2 68l1-41l1-18l1 41l1 33l1 34l1 33l2 68l1-70l7 0l1 41l2-36l1-19l2-36l1 0l1 40l2 0l1 41l1-18l1-19l4-72l1-19l1-18l5 0l1-69l1 33l1 34l1-69l1 0l1 40l1 41l1 34l1 33l1 34l1 33l1 34l1-69l2 0l1 40l1 0l1 41l1-18l1-19l3-54l1-19l1 41l1 34l1 33l1 34l1-69l1 0l1 40l1-18l1 41l1-41l1 41l1 33l1 34l1 33l2 68l1 33l2 68l1 33l2 68l1-41l1 41l1-41l1-18l1 40l2-138l1 33l1-40l1 0l1 40l2-36l1 41l1 33l1-40l4 0l1 40l1 41l1 33l2 68l1 33l2 68l1-41l2-36l1-19l1 0l1 41l1-18l1 40l1 34l1 33l2 68l1 33l2 68l1 33l2 68l1-41l1-18l1 40l2 68l1-70l1 0l1-69l1-40l1-19l1 41l1 34l1 33l1 34l1 33l1-69l6 0l1 41l1 40l1-40l1-19l1 0l2 82l1-41l1 0l1-69l1-41l1-18l1 40l2 68l1-41l3 0l1-69l1 34l1 33l1-69l1 0l1 40l1 0l2 82l1 33l1 34l1 33l2 68l1 33l1-40l1 0l1 40l2-36l1 40l2 68l1 33l2 68l1 33l2 68l1-41l2-36l1 40l1 34l1 33l2 68l1-70l1 41l2-36l1-19l3-54l1 0l1-70l2 68l1 33l1-40l1-19l1 41l1 34l1 33l1 34l1-69l3 0l1 40l2-36l1-19l2 0l1-69l1 34l1-41l1-18l1 41l1 33l1-40l2 0l1 40l1-18l1 41l1-41l1-18l1 0l1-70l2 68l1 33l1-40l1-18l1-19l1 41l1 34l1 33l1 34l1-41l1-18l2 0l1 41l1-19l1 0l1-69l1 34l1-70l7 0l1 41l1 0l1 41l1-19l1-18l1 41l1 33l2 68l1 33l1 34l1 33l2 68l1-70l1-69l1 34l1 33l2 68l1 33l1 34l1-41l2 0l1-69l1 34l1 33l1 34l1-69l4 0l1 40l3-54l1-19l1 0l1 41l5 0l1 41l1 40l1-40l1 40l1 34l1-41l1 41l1 33l2 68l1-41l2-36l1-19l1 41l1 34l1 33l1-40l1 40l1 34l1-69l1 0l1-70l2 68l1 33l1 34l1-69l1 40l1 41l1 33l1-69l3 0l1 41l1 40l1 34l1-41l2-36l1 40l2 68l1 33l1 34l1 33l2 68l1 33l2 68l1 33l2 68l1-41l2-36"/>
<path vector-effect="non-scaling-stroke" d="M0 37l1 33l1 34l1-41l1-18l1 41l1 33l1-40l1 0l1-70l1-69l1 0l1 41l1-19l1-18l1 41l1-41l2-36l1 40l1-40l1 40l1 34l1-41l1 41l1 34l1-41l3 0l1 41l1-19l1 41l1-69l5 0l1 40l2-36l1-19l2-36l6 0l1 40l1-18l1 41l1-41l1-18l1 41l1-41l3 0l1 41l1-19l1 41l1 34l1 33l1-40l1-19l1 41l1 34l1 33l2 68l1-70l1 41l1-18l2 0l1 40l2-36l1-19l1 41l1 34l1 33l2 68l1 33l1 34l1 33l1 34l1-40l2 0l1-70l2 68l1-41l1 0l1 41l1 0l1 40l1 41l1 33l1 34l1-41l3-54l2 0l1 40l3 0l1 41l1 0l1-70l1-40l1-18l2 0l1-70l1-40l1 40l2 68l1 33l2 68l1-41l1 41l1 33l1-40l1-19l3 0l2-138l2 0l1 40l1 41l1 34l1 33l1 34l1-41l3-54l1 40l1-40l1-19l3 0l1 41l1 40l2 68l1-41l3-54l1-19l1-18l3 0l1 41l3 0l1 40l1 41l1 33l1 34l1-69l1 0l1 40l3 0l1 41l1 40l2 68l1 33l1 34l1-41l2-36l1 40l2 68l1-41l1 0l1-69l1 34l1 33l1 34l1 33l1-69l1 0l1 41l1-19l1-18l1 0l1 41l1 40l2 68l1 33l2 68l1 33l2 68l1-70l1 0l2-138l1-70l1 34l1-69l3 0l1 40l1 41l1-41l1 41l1 33l2 68l1 33l1-69l2 0l1 41l1 40l1 34l1 33l2 68l1 33l2 68l1 33l2 68l1-41l2 0l1 41l6 0l1-70l1 34l1 33l2 68l1 33l2 68l1 33l1 34l1-41l1 41l1 34l1 33l2 68l1 33l1 34l1-41l1 0l1-69l1 34l1-70l2 0l1 41l1 40l2 68l1 33l2 68l1-41l1 0l1 41l1-19l1 41l1 34l1-70l1-69l1 34l1 33l1 34l1-69l1 40l1-18l1 41l1 33l1-40l1 40l1 34l1 33l2 68l1 33l2 68l1 33l2 68l1 33l2 68l1 33l2 68l1 33l1 34l1 33l2 68l1 33l2 68l1 33l1-40l1 40l2 68l1 33l1-40l1 40l1-40l1 40l2 68l1 33l1 34l1-41l1 0l1 41l1 0l1 40l2-36l1 41l1 33l1-69l4 0l1 40l1 41l1 34l1 33l2 68l1 33l1 34l1 33l2 68l1 33l2 68l1 33l1-69l1 41l1 40l1 34l1-41l1-18l4 0l1 41l1 0l1 40l2-36l1-19l1-18l1 41l1 33l1 34l1-41l1-18l1 41l1 33l1-40l1-18l1-19l1-18l1 0l1 41l1-19l2-36l1 41l1 33l2 68l1 33l1 34l1 33l2 68l1-70l2 0l1-69l1 34l1-41l3-54l1-19l1-18l3 0l1 41l1-19l7 0l1-69l1 34l1 33l2 68l1 33l2 68l1 33l2-138l1-41l1 0l1 41l1-19l1 41l1 34l1-41l1 0l1-69l1-41l3 0l1 41l1-19l2-36l1 0l1-69l1 33l2 68l1-41l2-36l1 40l1-40l1-19l1-18l1 41l1-41l2-36l1-19l3-54l3 0l1 40l3 0l1 41l1 0"/>
<path vector-effect="non-scaling-stroke" d="M0-16l1-19l3-54l1 0l1 40l1 0l1 41l1-18l1 40l1 34l1 33l2 68l1 33l2 68l1 33l1-40l1 40l1 34l1-41l1-18l1 41l1 33l1-40l1-18l1-19l1 41l1 34l1 33l2 68l1-41l1-18l1 40l2 68l1-41l2-36l1-19l1 41l1 34l1-41l7 0l1 41l1-19l1-18l3 0l1-69l1 33l2 68l1 33l2 68l1 33l1-40l1 40l1-40l1 40l2 68l1 33l1-40l1 40l1 34l1-41l1-18l2 0l1 41l1-19l2-36l2 0l1 40l1 41l1-69l1 0l1 40l1 41l1 33l2 68l1 33l2 68l1 33l1-40l1 0l1-70l2 68l1 33l2 68l1 33l2 68l1 33l2 68l1 33l1 34l1-69l2 0l1 40l2-36l5 0l1 40l1 41l1 33l2 68l1-41l1-18l1 40l2 68l1 33l2 68l1 33l1 34l1-41l1-18l1 0l1 41l1-18l1-19l1 41l1-69l2 0l1 40l1 41l1 33l1 34l1-41l1-18l2 0l1 41l1 40l1 34l1-41l1-18l1 0l1 41l1 40l1 34l1-41l3-54l1 40l1 34l1 33l1-40l1 0l1 40l1 41l1 34l1 33l1 34l1-69l1 0l1 40l1 41l1-70l2-138l2 0l1 40l1-18l1 41l1-41l2 0l1 41l1-19l4 0l1 41l1-18l1-19l1 41l1 34l1-70l1-69l1 34l1 33l1-40l1-18l1-19l1 0l1 41l1-18l1-19l2-36l3 0l1 40l4 0l1 41l1 0l1 41l2 0l1 40l2-36l1 40l1 34l1 33l2 68l1 33l1 34l1-40l1-19l1 41l1 33l1-69l1 41l1-19l2 0l1-69l1-40l1 40l1-40l1-19l1 41l1 34l1 33l2 68l1-41l2-36l1-19l2 0l1-69l1 34l1 33l1-40l1-19l1-18l1 41l1-70l1 41l4 0l1 41l1-19l1 0l1 41l1 0l1 40l2 0l1 41l2-36l4 0l1 40l1 41l1-41l2-36l1 0l1 40l3 0l1 41l1-19l4-72l1 40l1 34l1 33l2 68l1 33l2 68l1 33l2 68l1 33l1-40l1-19l1-18l1 0l1-69l1-41l1 41l1 34l1-41l2-36l1 40l1 34l1 33l2 68l1 33l2 68l1-41l4 0l1-69l1 33l1-69l1 0l1 41l1-19l1 41l1 34l1 33l1-69l1 40l3 0l1 41l1-18l1 0l1 40l4 0l1 41l8 0l1 40l1 41l1 34l1 33l2 68l1 33l1 34l1 33l1 34l1-40l1 40l1 34l1 33l1-40l1 40l2 68l1-41l1 41l1-70l1 0l1 41l6 0l1 41l1-19l3-54l1 40l1 34l1-70l1 41l6 0l1 41l1 0l1-70l2-138l1 33l2 68l1 33l1-40l1-19l2-36l2 0l1 40l1-18l1 41l1-41l2-36l1 40l1 34l1-41l1 41l1 34l1 33l2 68l1-70l2 0l1 41l1-18l1 40l1 34l1 33l2 68l1 33l1 34l1-69l1 40l4 0l1 41l1-18l1-19l3 0l1 41l1-18l1 0l1 40l1 41l1 33l1-40l1-18l1-19l4 0l1 41l1 40l2 68l1 33l2 68l1 33l2 68"/>
<path vector-effect="non-scaling-stroke" d="M0 37l1 33l1-69l3 0l1 40l1 0l1 41l4 0l1 41l1-19l3-54l1-19l1-18l1 41l1 33l1 34l1-41l1 41l1 34l1 33l2 68l1 33l1 34l1-69l1 0l1 40l2-36l1 40l1 34l1 33l1-40l1 40l2 68l1 33l1-40l1-18l1 0l1 40l1 41l1-41l1-18l2 0l1 40l2 0l1 41l2-36l1-19l1-18l1 41l1-70l1 41l1-18l1 40l1 34l1 33l1-69l1 41l1-19l4 0l1 41l2-36l1-19l1 0l1 41l1 40l2 68l1 33l2 68l1-70l1 41l1-18l1 40l2 68l1 33l1-40l1 40l1-69l2 0l1-69l1 33l1-40l1-19l3-54l1-19l3 0l1 41l2-36l3 0l1 40l1 41l1-41l2-36l1-19l1-18l1 41l1 33l1-40l4 0l1 40l3 0l1 41l1-18l1 0l1-70l2 68l1 33l1-69l2 0l1 41l1-19l1-18l1 0l1 41l1-19l3-54l1-19l1 41l1 34l1 33l2 68l1 33l1 34l1-69l1 40l5 0l1 41l1 40l2 68l1 33l1 34l1 33l2 68l1 33l1-40l1 40l2 68l1 33l1-40l1-18l1-19l1-18l1 41l1-70l1 41l1-18l1-19l1 41l1-69l5 0l1 40l2 0l1 41l1-19l1-18l1 41l1 33l1 34l1-40l1 40l1 34l1 33l2 68l1 33l2 68l1 33l1 34l1-41l2-36l2 0l1 40l2-36l1 0l1-69l1-70l3 0l1-69l1-40l1 0l1 40l2-36l1 40l1 34l1 33l2 68l1 33l1-69l1 41l1-19l1-18l1 41l1 33l1-40l1 40l1-40l1 40l2 68l1-41l2-36l1 40l1 34l1 33l2 68l1-41l1 0l1 41l1-18l1 40l1 34l1 33l1-40l3 0l1-70l1 34l1-40l1-19l3-54l1-19l2-36l3 0l1 41l1 40l1 34l1 33l2 68l1 33l2 68l1-41l1 41l1 33l1-69l3 0l1-69l1 33l2 68l1 33l1 34l1 33l1 34l1-40l1-19l2-36l1 40l2 68l1 33l2 68l1 33l2 68l1 33l1-69l3 0l1 41l1 40l1-40l1 40l1 34l1 33l1 34l1-41l1 0l1 41l1-18l5 0l1-70l1-69l2 0l2-138l1 40l2-36l1-19l1 41l1-69l3 0l1 40l1 41l1 33l2 68l1 33l1 34l1-69l1 0l1 40l1-18l1 0l1-69l1 33l2 68l1-41l1-18l1 40l1-69l4 0l1-69l1-41l1-18l1 40l2 68l1 33l2 68l1 33l1-69l1 0l1-69l1-41l5 0l1 41l1-19l2 0l1 41l2 0l1-69l1 33l1-40l1-18l1-19l1 41l1 34l1-70l1 0l1 41l1 40l2 68l1-70l1 41l1-18l1-19l1 41l1 34l1-41l1-18l1 40l1 34l1-69l1 0l1 40l3-54l1 40l1 34l1-70l2 0l1 41l1-18l1 40l1-40l1-19l7 0l1-69l1 34l1 33l1-69l3 0l1 41l1 0l1 40l3-54l1-19l2-36l9 0l1 40l2-36l1 40l2 68l1 33l1-40l1-18l6 0l1 40l2-36"/>
<path vector-effect="non-scaling-stroke" d="M0-16l1-19l4-72l1-19l1 0l1 41l1-18l1 40l1 34l1-41l1 41l1-70l1 41l2-36l1-19l1-18l3 0l1 41l1 40l1 34l1-41l1 41l1-41l1 41l1 33l2 68l1 33l2 68l1 33l2 68l1-70l1 0l1-69l1-41l2-36l3 0l1 41l1 40l1-40l1-19l2-36l1 40l2 68l1 33l2 68l1 33l2 68l1 33l1-69l2 0l1 40l1 41l1-69l9 0l1 40l3-54l2 0l1 40l1 41l1 33l2 68l1 33l1-40l1-19l2-36l1 41l1-41l1-18l1 40l1-69l1 0l1 41l1 40l1-40l1 40l1 34l1 33l1-40l1-18l1-19l1-18l3 0l1-69l1 33l2 68l1-41l1-18l1 41l1-41l1 41l1 33l1 34l1 33l2 68l1-70l2 82l1-41l1 41l1 33l1 34l1 33l1 34l1-40l1 40l1-40l2 0l1 40l1-18l1 40l2 68l1-41l2-36l1 40l1 34l1-41l2-36l1 40l2 68l1-41l1 41l1-41l3-54l1-19l1-18l5 0l1 41l1-19l2-36l1 0l1 40l1 41l1 34l1 33l1 34l1-41l3-54l1 40l1 34l1-69l6 0l1 40l2-36l3 0l1 40l1 41l1-41l1-18l1 40l2 68l1 33l1 34l1-69l1 0l1 40l3-54l1-19l3-54l1-19l1-18l1 0l1 41l1 40l1-40l1 0l1 40l1-18l1 41l1 33l2 68l1 33l2 68l1 33l1 34l1 33l1 34l1-40l1-19l1 0l1 41l1-18l1-19l2-36l1 0l1-69l1 33l2 68l1 33l1-40l1 0l1 40l1 41l1 33l2 68l1 33l1-40l1-18l1 40l1-69l1 0l1 40l2-36l2 0l1-69l1 33l2 68l1 33l1 34l1 33l2 68l1-41l1 0l1 41l1 40l1-69l7 0l1 41l2 0l1-70l2 68l1 33l1-69l2 0l1-69l1 33l1 34l1 33l2 68l1 33l2 68l1 33l2 68l1 33l2 68l1-41l2-36l1-19l1-18l1 41l1-70l1 41l4 0l1 40l3-54l1 40l2 68l1 33l2 68l1 33l1-40l1 40l1-40l1-19l1 41l1-41l2-36l3 0l1 40l1 0l1 41l2-36l2 0l1 40l1 0l1 41l1 40l1 34l1 33l1 34l1-69l1 40l1-18l1 41l1 33l1-40l1 40l1-40l1-18l1 0l1 40l1-18l2 0l1 40l1-18l1 41l1-41l2-36l1 40l1 34l1-69l6 0l1-70l2 68l1 33l1-69l1 40l1 41l1 34l1 33l1 34l1-41l3-54l1-19l2-36l1 41l1 33l1 34l1 33l1 34l1-40l1 40l1-69l4 0l1 40l1 41l1 34l1-41l2 0l1 41l1 40l1 34l1-41l2-36l1 0l1 40l2-36l1 40l1 34l1-69l1 40l1 41l1 33l1 34l1-40l1-19l1-18l1 41l1-70l1 0l1 41l1-18l1-19l3 0l1 41l1-18l1-19l1-18l1 41l1 33l1-40l1-18l1 40l2 68l1 33l1-69l2 0l1 40l2-36l1 40l2 68l1 33l1 34l1-69l2 0l1 40l1-18l1 41l1 33l2 68l1-41l3 0l1 41l1 0l1 40l1 41l1 33l2 68"/>
<path vector-effect="non-scaling-stroke" d="M0-23l1 40l2 68l1 33l2 68l1-70l3 0l2 82l1 33l1 34l1-41l1-18l4 0l1 41l1-19l3 0l1 41l1-18l1 0l1-70l1 34l1-41l1-18l1 0l1-69l1 34l1 33l1-40l3 0l1 40l1 0l1 41l1-18l1 40l1 34l1-41l2-36l1-19l1-18l1 41l1 33l1 34l1-40l1-19l1-18l1 41l1 33l1-40l1-19l1 0l1 41l1 0l1-69l1 33l2 68l1-41l2-36l1-19l1-18l1 41l1 33l2 68l1 33l1-40l1-18l1 40l1 34l1 33l2 68l1-41l2-36l1-19l1 41l1-41l1 41l1-41l3-54l1-19l1-18l1 0l1 41l1-18l1 40l1-40l1 40l1 34l1 33l1 34l1-69l1 40l1 0l1-69l1 34l1 33l2 68l1 33l1 34l1-69l2 0l1-70l1 34l1-41l4 0l1 41l1 40l1 34l1-40l1 0l1 40l3 0l1 41l1-19l1 41l1-69l1 0l1 40l1 41l1-70l1-69l1 34l1 33l2 68l1 33l2 68l1-70l2 0l1 41l1-18l1 0l1-70l2 68l1 33l2 68l1-70l4 0l1-69l1 34l1 33l1 34l1 33l1 34l1-40l1-19l1 41l1 34l1 33l1-40l2 0l1 40l1 0l1-69l1 34l1-70l1 41l4 0l1-70l2 68l1 33l1-69l3 0l1 41l1-19l1-18l1 41l1-70l4 0l1 41l1-18l1 40l2 68l1 33l1 34l1 33l1-69l1 41l1 40l2 68l1-41l1 41l1 33l1-69l1 40l1 41l1-41l9 0l1-69l1-40l1 40l1 34l1 33l1-69l1 41l2 0l1 40l1 41l1 33l2 68l1-41l2-36l1 40l2 68l1 33l1 34l1-41l2-36l1 40l2 68l1 33l2 68l1 33l2 68l1-41l1 0l1 41l1 40l1 34l1 33l1 34l1-41l1 41l1 34l1-41l2-36l1-19l2-36l1 40l1-40l1 40l2 68l1 33l1 34l1-40l1-19l2-36l3 0l1 40l3-54l3 0l1 40l2 0l1-69l1 34l1 33l2 68l1-70l3 0l1 41l1-18l1 40l1-40l1-19l2-36l4 0l1 40l3-54l1 40l1 34l1-69l8 0l1 40l1-18l1 40l2 68l1 33l2-138l1 33l1-69l1 0l1 41l1 40l1 34l1-41l3-54l1-19l1-18l6 0l1 41l2 0l1 40l2-36l1 40l1-40l1-19l1 41l1 34l1-41l1 0l1 41l1-19l2-36l1 41l1 33l1-40l1-19l1 41l1 34l1-70l10 0l1 41l1 40l2 68l1 33l1-40l1 40l1-40l1 40l1 34l1-41l1-18l1 41l1-41l1 41l1 33l1-40l1-18l1-19l1-18l1 41l1-70l1 0l1 41l1-18l1-19l1 41l1 34l1 33l1-40l1 40l2 68l1-41l1 0l1 41l4 0l1 40l15 0l1 41l1 40l1-69l2 0l1 40l1 41l1 34l1 33l1-40l1-18l1-19l1 41l1 33l1 34l1-40l3 0l1 40l1 41l1 33l1 34l1-41l1-18l1 41l1 33l1-69l1 41l3 0l1-70l2 68l1 33"/>
<path vector-effect="non-scaling-stroke" d="M0 37l1 40l1 34l1 33l2 68l1-70l3 0l1-69l1-40l1-19l1 41l1 33l1-69l2 0l1 41l1-19l1 41l1 34l1-41l1-18l10 0l1 40l1 41l1-41l2-36l1 41l1 33l1 34l1-70l1 41l2-36l6 0l1 40l1 41l1 33l2 68l1-41l1-18l2 0l1 40l5 0l1 41l1 40l1-40l1-18l1 40l2 68l1 33l1-40l1-19l1 41l1-41l1-18l1 41l1 33l1-40l1 40l1-40l1 40l2 68l1 33l2 68l1 33l2 68l1-70l3 0l1-69l1 34l1 33l1-40l1-19l1-18l1 41l1 33l1-69l2 0l1 41l1 40l1 34l1 33l2 68l1 33l2 68l1-70l3 0l1 41l1 40l1-40l1 40l2 68l1 33l1-69l1 0l1 41l1-19l1 0l2 82l1 33l1 34l1 33l2 68l1 33l2 68l1 33l1 34l1-41l4-72l2 0l1 40l4 0l1 41l1-19l1 41l1-41l3-54l1 40l2 68l1-41l1-18l1 0l1 40l2 0l1-69l1 34l1 33l2 68l1 33l1 34l1-41l1 0l1 41l1 40l1-40l1-18l1-19l3-54l1-19l2-36l1 0l1 41l1-19l1 41l1 33l1 34l1-40l1-19l1-18l2 0l1 41l5 0l1-70l2-138l1 33l2 68l1 33l1 34l1-41l3-54l1-19l1-18l1 41l1 33l1-40l1-18l1-19l1 41l1-69l3 0l1-70l2 68l1 33l2 68l1 33l2 68l1 33l1-40l1-19l1 41l1 34l1 33l2 68l1-41l1 41l1-70l1 41l1-18l1 40l1-69l1 40l1 41l1 34l1-70l1 41l1-18l1 0l1-70l1 34l1 33l1 34l1-40l1-19l1 0l1 41l1 40l1-69l3 0l1-69l1-41l3 0l1 41l1-18l6 0l1 40l2-36l1-19l4 0l1 41l2-36l1 40l1-40l1-19l3-54l1-19l1-18l1 41l1 33l2 68l1 33l2 68l1-41l1 41l1 33l1-40l1-19l1 41l1 34l1 33l2 68l1 33l2 68l1-41l1-18l1 40l1-40l1-18l1 0l1 40l1 0l1 41l1 40l1-40l1 0l1 40l2-36l1-19l2-36l1 41l1 33l1 34l1 33l1 34l1-40l1 40l1-69l1 0l1 40l1 41l1-41l1-18l1 41l1 33l1 34l1-41l3-54l2 0l1 40l1 41l1-41l1-18l1 41l1 33l1-69l4 0l1 40l3-54l1 40l1 34l1-41l1 41l1-69l1 0l1 40l1 41l1 33l2 68l1 33l1 34l1-41l5 0l2 82l1 33l1 34l1 33l2 68l1 33l1-69l4 0l1 41l1 0l1 40l1 41l1-70l1-69l1 34l1 33l2-138l1 33l2 68l1-41l2-36l1 40l2 68l1-41l1 41l1-41l1 41l1 33l1-69l1 40l1 41l1-69l1 40l1 41l1-70l1 0l1-69l1 34l1-41l1 41l1-70l1-69l1 34l1 33l2 68l1 33l2 68l1 33l2 68l1-70l6 0l1 41l1 40l2 68l1 33l2 68l1 33l1 34l1-41l3 0l1 41l1-18l1 40l1 34l1-41l1-18l1 41l1 33l1-40l1 40l2 68l1-41l1 0l1 41"/>
<path vector-effect="non-scaling-stroke" d="M0-23l1 34l1-41l1-18l1 40l2 68l1 33l2 68l1 33l2 68l1-41l2-36l1-19l3-54l2 0l1 40l1 41l1-41l1-18l1 40l2 68l1-41l1 41l1 33l1-69l1 0l1 41l1 0l1 40l1-18l2 0l1 40l4-72l1 0l1 40l1 41l1 33l2 68l1 33l2 68l1 33l1-40l1 40l1 34l1-41l1-18l1 41l1 33l1 34l1-41l1-18l1 0l1 41l1 40l1-69l1 40l1 41l1 34l1 33l2 68l1 33l2 68l1 33l1 34l1 33l2 68l1 33l2 68l1 33l2 68l1 33l2 68l1 33l2 68l1-70l1 41l1-18l2 0l1 40l2 0l1 41l1 40l1 34l1-41l1 41l1 33l1 34l1-69l1-70l1 34l1-69l1 40l1 41l1 34l1-41l8 0l1-69l1-41l1-18l1 40l2 68l1-41l1 41l1 33l1-40l1 40l2 68l1-41l1-18l1 40l1-40l13 0l1 40l1 41l1 34l1-70l1 0l1 41l1 40l2 68l1 33l1 34l1-41l1-18l2 0l1 41l2 0l1-70l1 34l1-40l1 40l1 34l1 33l2 68l1 33l1-69l1 41l1 40l1 34l1 33l1-40l1-18l1-19l8 0l1 41l2-36l1-19l1 41l1 33l2 68l1 33l1-40l1 40l2 68l1 33l1 34l1-41l1-18l1 41l1-41l1-18l1 0l1-69l1 33l2 68l1 33l2 68l1 33l1-40l1 40l1 34l1 33l1 34l1-40l1 40l1 34l1-41l1 41l1 33l1-40l1 40l2 68l1 33l2 68l1 33l2 68l1 33l2 68l1 33l1 34l1-69l1-70l1-69l1 40l1-18l1 41l1 33l1-69l1 0l1 41l1-19l1-18l1 41l1 33l2 68l1 33l2 68l1-41l1-18l1 0l1 40l2-36l1 40l1-69l2 0l1-69l1 33l1-40l1-18l1 0l1-70l1 34l1-41l1 41l1-41l1 41l1-69l1 0l1 40l1 41l1-70l1 41l4 0l1 41l1-19l1 41l1-41l1-18l3 0l1 41l1-19l4-72l1 40l1 34l1 33l2 68l1 33l1-40l1-18l1-19l2-36l1 40l2 68l1 33l2 68l1 33l1 34l1-41l1 41l1 34l1 33l1 34l1 33l1 34l1-40l1-19l1-18l4 0l1-69l1 33l1-40l3 0l1 40l1-18l1 41l1-70l4 0l2 82l1-41l1-18l1 0l1 40l1-18l8 0l1 41l1 40l1 34l1 33l2 68l1 33l1-69l1 41l1-19l4 0l2-138l1 40l2-36l1 40l2 68l1 33l2 68l1-41l1-18l1 40l2 68l1-41l1 41l1 33l1 34l1-41l3 0l1-69l1 34l1-41l1 41l1 33l2 68l1-41l1-18l1 40l2 68l1 33l1-40l1-18l1-19l1-18l4 0l1 41l2 0l1 40l3-54l1-19l2-36l1 40l2 68l1 33l2 68l1 33l1-69l1 41l2 0l1-70l2 68l1-41l1-18l1 40l2 68l1 33l2 68l1 33l1 34l1 33l1 34l1-40l1-19l1 0l1 41l1-18l1-19l2-36l1 0l1-69l1-41l3 0l1-69l1 33l2 68l1-70l2 0l1 41l1-18l1 40l1-69l1 41"/>
<path vector-effect="non-scaling-stroke" d="M0 37l1-19l1 41l1 34l1 33l1 34l1 33l1 34l1-69l1 40l1 41l1-41l1 41l1 34l1-70l2 0l1 41l1 40l2 68l1 33l2 68l1-41l11 0l1 41l1 40l1-40l1-19l1 41l1-41l1-18l1 41l1 33l2 68l1 33l2 68l1 33l1 34l1-70l1 0l1-69l1 34l1 33l2 68l1 33l2 68l1 33l1 34l1-41l4-72l1 0l1 40l1 41l1-41l1 41l1 33l2 68l1-41l2-36l1 40l1 34l1 33l1 34l1-41l1 41l1-69l3 0l1 40l1 41l1 33l1 34l1-40l1-19l3 0l1 41l2 0l1 40l1-18l5 0l1 41l1-19l3-54l3 0l1-70l1 34l1-40l1-19l1 41l1-41l1-18l1 0l1 41l1-19l1 41l1-69l1 0l1 40l1 41l1 33l2 68l1-41l2-36l1-19l2-36l1 0l1 41l1 40l1 34l1 33l2 68l1-70l1 0l1 41l1 40l1 34l1-40l1-19l1-18l2 0l1 41l3 0l1 40l1 41l1-70l13 0l1 41l1-18l1 0l1 40l3-54l1-19l2-36l1 40l2 68l1 33l1-40l1-18l1 0l1 40l1 0l1-69l1 33l1-40l1-18l1-19l2-36l1 0l1-69l1 33l1 34l1-41l1 41l1 34l1 33l2 68l1-41l3 0l1-69l1-41l2-36l1-19l1 41l1 34l1-41l1-18l1 0l1-69l1 33l1 34l1-41l1 41l1 34l1 33l1 34l1 33l2 68l1 33l1-69l2 0l1 41l1 40l1 34l1 33l2 68l1 33l2 68l1 33l2 68l1 33l1 34l1-41l4 0l1 41l1 40l2 68l1 33l2 68l1-41l5 0l1 41l1 40l2 68l1 33l1-40l1-19l1 41l1 34l1 33l1-69l4 0l1 40l1 41l1 34l1-70l2 0l1 41l7 0l1 40l1 41l1 34l1-41l1-18l1 40l1-69l3 0l1 41l1-19l1-18l1 41l1-41l2-36l1 40l2 68l1 33l2 68l1 33l1 34l1-70l1 41l2-36l1-19l1-18l1 0l1 41l1 40l2 68l1 33l1-69l5 0l1 40l2-36l4 0l1-69l1-41l1 0l1 41l1-19l2 0l1 41l1-18l1 40l1 34l1-41l1-18l1 0l1 41l1 40l1 34l1-41l1 41l1 33l1-40l1-18l1 40l2 68l1 33l1-69l1 0l1-69l1-41l2-36l1-19l2-36l1 40l1-69l1 0l1 41l1-19l2-36l4 0l1 40l1-18l1 41l1 33l1 34l1-69l7 0l1 40l3-54l1-19l2-36l1 40l2 68l1 33l2 68l1 33l2 68l1 33l1 34l1-69l1-70l2 68l1-41l2-36l2 0l1 40l1-18l2 0l1-69l1 33l2 68l1 33l1-69l2 0l1-69l1 33l2 68l1 33l1 34l1 33l1-69l1 0l1 41l1-19l1 41l1 34l1 33l2 68l1 33l2 68l1-41l1 0l1 41l4 0l1 40l1 41l1 33l2 68l1 33l1-40l5 0l1 40l1-18l1 41l1 33l1 34l1-69l1 40l1 41l1 33l1-40l1 40"/>
<path vector-effect="non-scaling-stroke" d="M0 37l1 33l1 34l1 33l1 34l1-69l1 40l1 41l1 34l1 33l2 68l1 33l1 34l1 33l1 34l1-69l1-70l2 68l1 33l1-69l1 0l1 41l3 0l1 40l2-36l1 40l2 68l1-70l1 41l1 0l1 40l2 0l1-69l1 34l1 33l1 34l1-41l3-54l2 0l1 40l1-18l1 41l1 33l1 34l1-41l3-54l4 0l1 40l2-36l6 0l1 40l2 0l1 41l1 40l1 34l1-41l1 41l1-69l1 40l1-18l1 0l1-69l1 33l1-40l1-18l1-19l1 0l1-69l1 34l1-70l2 0l1-69l1 34l1 33l1-69l1 0l1 41l1-19l1 0l1 41l1 40l2 68l1 33l1-69l2 0l1 41l1 40l1 34l1 33l1-40l1 40l1 34l1-40l1-19l2-36l1 0l1-69l1 33l1-40l2 0l1 40l1 41l1 33l1-40l1-18l1-19l2-36l5 0l1 40l1 41l1 34l1 33l2-138l1 33l1-40l6 0l1 40l2-36l1 40l2 68l1 33l1 34l1-41l1-18l1 41l1 33l2 68l1 33l1-69l3 0l1-69l1-41l1 41l1 33l1-40l1-18l4 0l1-70l2 68l1 33l1 34l1-69l2 0l1 40l1 41l1-41l2-36l1-19l4 0l1 41l1 0l1 40l1 41l1 34l1 33l1-40l2 0l1 40l3-54l1 40l1 34l1 33l1 34l1-40l3 0l1 40l1 41l1 33l2 68l1 33l2 68l1 33l1 34l1 33l2 68l1-41l2-36l1 40l1 34l1-41l3-54l1 40l2 68l1 33l1 34l1 33l2 68l1 33l1-69l3 0l1 41l1 0l1 40l3-54l1-19l2-36l1 40l2 68l1 33l2 68l1 33l1-40l1 40l1-40l1 40l2 68l1-70l1 41l4 0l1 40l1-18l1 41l1 33l2 68l1 33l1-40l1 40l1-40l1 40l1-40l1 40l1-40l1-19l2-36l1 41l1-41l1-18l1 40l2 68l1 33l2 68l1 33l1 34l1 33l2 68l1 33l1-40l1-18l1 40l1-40l1 0l1 40l1 41l1 33l1-40l1 40l2 68l1 33l1-40l1 0l1 40l1-18l1 41l1 33l1 34l1-41l3-54l1 40l2 68l1 33l1-69l2 0l1 40l1-18l1 41l1 33l2 68l1-41l1-18l1 40l2 68l1 33l1 34l1-69l3 0l1 40l2-36l1 40l1 34l1-69l1-70l2 68l1-41l2-36l1-19l1 41l1 34l1 33l1-69l4 0l1 40l1-18l1 41l1 33l2 68l1 33l2 68l1-41l2-36l1-19l2-36l3 0l1-69l1 33l1 34l1-41l1 41l1-41l1 41l1 34l1 33l2 68l1 33l1 34l1 33l1 34l1-69l2 0l1-70l2 68l1 33l2 68l1-70l3 0l1 41l1 0l1 40l1 41l1 34l1 33l1-69l2 0l1 41l1-19l3-54l1 40l1 34l1-41l1 0l1 41l1-18l1 40l1 34l1 33l2 68l1 33l2 68l1 33l1-69l4 0l1 41l1-19l1-18l1 41l1 33l1 34l1-41l1 41l1 34l1 33l2 68l1 33l1 34l1-41l5 0l1 41l1-18l3 0l1 40l2-36l1 40l1-40l1-19l1 41l1-41l1-18l1 41"/>
<path vector-effect="non-scaling-stroke" d="M0 37l1 40l1 34l1 33l1 34l1-69l1 40l1-18l1 0l1 41l1-19l4 0l1 41l1-18l1-19l1 41l1 34l1 33l1-69l4 0l1-69l1-70l2 0l2-138l3 0l1 40l1-18l1 0l1-69l1 33l2 68l1-41l1 41l1-70l2 0l1 41l1 40l1-69l4 0l1 41l1-19l1 41l1 34l1-41l1 41l1 33l2 68l1-70l1 41l1 0l1 40l3 0l1 41l1-18l1-19l2-36l1 40l1 34l1-69l3 0l1 40l1-18l1 41l1 33l2 68l1 33l1-40l1 40l2 68l1 33l2 68l1 33l1 34l1 33l1 34l1-40l1 40l1 34l1 33l1-40l1 0l1 40l2 0l1-69l1 34l1 33l1-40l1-18l1-19l3-54l4 0l1-70l1-69l2 0l1 41l1-19l1 41l1-41l1 0l1 41l1 0l1 40l9 0l1-69l1 34l1-70l3 0l1 41l1-18l3 0l1-70l1-40l1-18l1 40l1 34l1-69l1 40l2-36l1-19l2-36l1 40l1 34l1-40l1-19l2-36l1 0l1 40l1 41l1 34l1-70l1-69l1-41l1 41l1-69l1 40l1 41l1-41l2-36l1 40l2 68l1 33l1 34l1-41l3-54l1-19l1 41l1-41l1 41l1 34l1-41l1-18l1 40l2 68l1-41l6 0l1 41l1-19l2-36l1 41l1-41l2 0l1 41l9 0l1 40l2-36l1 40l1 34l1-41l1-18l1 0l1 41l1 0l1 40l2 0l1-69l1 33l2 68l1 33l2 68l1-41l2 0l1 41l1 0l1-70l2 68l1 33l1-40l2 0l1 40l2-36l1 40l2 68l1 33l1 34l1-41l2 0l1 41l2-36l1 40l1 34l1 33l1-69l1 0l1-69l1 33l2 68l1 33l1-40l1-18l1-19l1 41l1 34l1 33l1 34l1-69l4 0l1 40l1-18l1 0l1-69l1 33l1-40l1 40l1 34l1 33l2 68l1 33l1-40l1-18l1-19l1 41l1 34l1 33l1-40l1-19l4 0l1-69l1 34l1-41l1 0l1-69l1 34l1 33l1 34l1 33l2 68l1 33l1 34l1-69l1 0l1 40l2 0l1 41l1-18l1-19l2-36l1 40l2 68l1-41l3-54l1 40l1-69l2 0l1 40l4 0l1 41l1 0l1 40l1 41l1-41l2-36l1 0l1 40l1 41l1 34l1 33l2 68l1 33l1-40l1-19l1-18l1 41l1 33l2 68l1 33l2 68l1-41l1 41l1 33l1-69l3 0l1-69l1 33l2 68l1 33l2 68l1 33l2 68l1-41l4 0l1-69l1 33l1 34l1-41l1 41l1-41l1 41l1 34l1-41l2-36l3 0l1 40l1-18l1 40l1-40l1-18l3 0l1-70l2 68l1-70l2 0l1 41l1-18l2 0l1-70l1-40l1-18l1-19l1-18l1 0l1 41l1-19l3 0l1 41l2-36l1 40l1 34l1 33l1-40l1 40l1-40l1 0l1 40l1 41l1 34l1 33l1-40l1-19l6 0l1 41l1-18l1 40l1-69l1 40l2-36l1 41l1 33l2 68l1 33l1 34l1 33l1 34l1-40l1-19l1-18l1 41l1 33l1 34l1-41l2-36l1 40l2 68l1 33l1 34"/>
<path vector-effect="non-scaling-stroke" d="M0-16l1 40l1-18l1 41l1 33l1 34l1 33l2 68l1 33l2 68l1 33l1 34l1-41l1-18l1 41l1 33l1-40l2 0l1 40l1-18l1 0l1 41l1-19l1 41l1-69l1 40l2 0l1 41l1-18l1-19l1 41l1 34l1-70l2 0l1-69l1 34l1 33l2 68l1-41l1-18l1-19l3 0l2 82l1 33l2 68l1-70l1-69l1 34l1 33l1 34l1 33l1-40l1-18l1 40l1-40l1-19l3-54l2 0l1 40l3-54l1-19l1-18l5 0l1-69l1 33l2 68l1 33l1-69l1 41l1-19l1 41l1-41l5 0l1-69l1 34l1 33l1-40l1-18l1 40l1 34l1 33l2 68l1 33l1-40l1 0l1 40l3-54l1 40l2 68l1 33l1 34l1-69l1 40l2-36l1-19l1 41l1-41l1-18l1 41l1 33l2 68l1 33l1-69l1 0l1 41l1-19l1-18l3 0l1 41l1-19l1 41l1-69l2 0l1 40l1 41l1 33l2 68l1 33l1-40l2 0l1-70l1 34l1-69l1 0l1 40l1 0l1 41l1 40l2 68l1 33l2 68l1 33l1-69l1 0l1 41l1-19l3-54l2 0l1-70l2 68l1 33l1-40l2 0l1 40l1 41l1-70l2 0l1-69l1 34l1 33l1 34l1-40l1-19l1 41l1-41l1 41l1 33l1 34l1-40l2 0l1 40l1 41l1 33l1-40l1 40l1 34l1-41l1 41l1 34l1 33l1 34l1-69l3 0l1 40l1 41l1 33l2 68l1 33l2 68l1-70l1 41l1 0l1 40l1 41l1 34l1-70l1 41l1 40l1-40l1-18l1 40l1-69l1 0l1-70l2 68l1 33l1-40l1 40l2 68l1 33l2 68l1 33l2 68l1 33l1-69l1 40l1-18l1 41l1 33l2 68l1-70l1 41l1-18l1-19l1 41l1 34l1 33l1 34l1-41l1-18l3 0l1 41l1-18l1-19l1 41l1 33l1-69l3 0l1-69l1 34l1 33l1-69l4 0l1 40l1-18l2 0l1 41l1 40l2 68l1 33l1 34l1 33l2 68l1 33l2 68l1 33l2 68l1 33l2 68l1 33l2-138l1 33l1 34l1-69l1 40l1-18l1 40l1-69l2 0l1 41l1-19l2-36l2 0l1 41l1-19l1-18l3 0l1 41l1 0l1 40l6 0l1-69l1 33l1-40l1 40l2 68l1-41l1 41l1 33l1-40l1 40l2 68l1 33l1 34l1-41l1-18l1 41l1 33l1-40l1 40l1-40l1 0l1-69l1 33l2 68l1 33l1 34l1 33l1-69l2 0l1-69l1-41l1 41l1-41l3-54l1 0l1 40l1 41l1 33l1 34l1-41l3-54l1 40l2 68l1 33l1 34l1-69l4 0l1 40l1 41l1 33l1 34l1-41l1 41l1 34l1 33l1 34l1-69l1 40l1-18l1 40l1-40l1 40l2 68l1 33l1 34l1-41l3 0l1 41l2-36l1 40l1 34l1 33l1 34l1-69l1 0l1 40l3-54l1-19l1 0l1 41l1-18l1-19l1-18l1 41l1 33l2 68l1 33l1 34l1-41l1 41l1 34l1-70l1 41l1 40l1 34l1-40l1 40l1 34l1-70l1 41l1-18l1 0l1 40l1 41l1 33l2 68l1-41l1 41l1-41l1 41l1 33l2 68l1 33l2 68l1-41l2 0l1-69l1-41l1-18l1 41l1 33l1 34l1 33l1-40l1-18l1 40l2 68l1 33l1 34"/>
<path vector-effect="non-scaling-stroke" d="M0-23l1 34l1 33l1-69l5 0l1-69l1-41l1 41l1 33l1-40l1-19l1 41l1-69l4 0l1 40l2-36l1 40l1 34l1-41l1-18l1 41l1 33l1-40l2 0l1 40l2-36l1 40l2 68l1 33l2 68l1 33l2 68l1 33l2 68l1-41l1 41l1 33l2 68l1 33l1 34l1-41l3-54l1-19l1-18l1 0l1 41l1 40l1-40l1-19l1-18l1 41l1-70l2 0l2 82l1 33l1 34l1 33l2-138l1 34l1 33l1 34l1-41l3-54l1-19l3-54l1-19l1-18l1 41l1 33l1 34l1-41l1 0l1-69l1-40l1-19l1-18l2 0l1 41l1-19l1 41l1 34l1 33l1-40l1-18l1 40l1 34l1-41l2-36l1-19l1 0l1-69l1 34l1 33l2 68l1 33l2 68l1-41l2-36l1 40l1 34l1-41l1 41l1-41l3 0l1 41l4 0l1 40l1-18l1 41l1-70l1 41l1-18l1-19l1-18l1 41l1 33l2 68l1 33l1-40l4 0l1-69l1 33l1 34l1 33l2 68l1-70l1 41l1-18l1 0l1 40l1-18l1 0l1 41l1-19l2 0l1 41l1 40l1 34l1-69l1 0l1 40l1 41l1 34l1-70l4 0l1 41l1-18l1 40l1 34l1-41l2-36l1 40l1-40l1 0l1 40l1 41l1 33l1-40l1-18l1-19l2-36l1 0l1 41l1-19l2-36l1 0l1 40l2-36l1 40l2 68l1 33l1-40l1-18l3 0l1 40l2-36l1 40l1-69l1 41l1 40l1 34l1 33l2 68l1 33l2 68l1-41l1-18l2 0l1 40l1 41l1-69l1 40l1-18l3 0l1 40l4-72l1 40l1-69l1 40l1 41l1 33l2 68l1 33l2 68l1 33l2 68l1 33l2 68l1 33l1 34l1-41l1 41l1 34l1-41l1 41l1 33l1 34l1-41l1 41l1 33l2 68l1 33l1 34l1-69l1 0l1 40l1 41l1 34l1 33l1 34l1 33l2 68l1-41l2-36l1 40l2 68l1-41l3 0l1-69l1-70l1 41l1-18l1 40l1-69l5 0l1 40l1 41l1 34l1 33l1-40l1 40l2 68l1 33l1 34l1-41l1 41l1-69l1 40l1-18l1 0l1 40l3-54l1 0l1 40l1-18l1 41l1 33l1-40l4 0l1-70l1-40l1-18l1-19l3-54l1-19l1-18l1 41l1 33l2-138l1 33l2 68l1 33l2 68l1 33l2 68l1-41l2-36l1 40l1 34l1 33l1-69l1 41l1-19l1-18l1 41l1 33l2 68l1 33l1-69l1 0l1 41l1 40l1-69l4 0l1 40l1 41l1 34l1 33l2 68l1-41l1 41l1-70l1 0l1-69l1 34l1-70l2 0l1 41l1-18l1 40l1 34l1-70l1 0l2-138l1-70l2 68l1 33l2 68l1 33l1 34l1-69l1 40l1-18l1 41l1 33l1-40l1-19l3-54l1 0l1 40l2-36l1 40l1-40l1 0l1 40l2-36l1 40l1-40l1-18l1-19l1 41l1 34l1-41l2-36l1-19l1-18l1 41l1 33l2 68l1 33l2 68l1-70l2 0l1 41l1-18l1-19l1 41l1 34l1 33l1 34l1 33l1 34l1-69l1 0l1 40l1-18l1 41l1-41l2-36l1 40l1 34l1 33l1 34l1-40l1-19l1-18l1 41l1 33l1-40l1 40l1-40l1-18l1 40l1 34l1 33l1-40l1-18"/>
<path vector-effect="non-scaling-stroke" d="M0 37l1 40l1-18l1 0l1 40l3 0l1 41l1 40l2 68l1 33l2 68l1 33l1-69l1 41l1-19l2-36l4 0l1 40l2 0l2 82l1 33l1-40l1 0l1 40l2-36l3 0l1 40l3-54l1 40l1 34l1 33l2 68l1 33l2 68l1-41l2-36l1 40l1-40l2 0l1 40l3-54l1 40l1-69l1 40l3-54l2 0l1 40l1-18l1 0l1 40l1-18l1 0l1-69l1 34l1 33l1-40l2 0l1-70l1-40l1 40l2 68l1 33l2 68l1-41l1 0l1 41l1-19l1-18l3 0l1 41l1-19l4 0l1 41l2 0l1-69l1-41l2-36l1-19l1 41l1 34l1-41l2-36l1 40l1 34l1-41l1 41l1 33l1 34l1-40l1-19l2-36l1 40l1 34l1-69l4 0l1 40l1-18l2 0l1 41l1 0l1 40l2-36l1 40l1 34l1-69l1-70l1-40l1-19l1-18l6 0l1 41l1-18l1-19l1-18l1 41l1-41l2-36l1 40l1-69l1 40l3-54l1-19l1 41l1 34l1-41l1 41l1 33l2 68l1 33l1-40l1 40l2 68l1 33l1 34l1 33l2 68l1-70l2 0l2 82l1 33l1 34l1 33l2 68l1 33l2 68l1 33l1 34l1-69l2 0l1 40l1 41l1-70l2 0l1-69l1 34l1 33l2 68l1 33l2 68l1 33l2 68l1-41l2-36l1 40l1 34l1 33l1-40l2 0l1 40l1-18l1 0l1-69l1 34l1 33l2 68l1 33l1-69l2 0l1-69l1-41l2-36l4 0l1 40l1-18l1 40l2 68l1 33l1 34l1-69l3 0l1 40l2-36l1 0l1-70l1 34l1-40l2 0l1 40l1 41l1-41l1 0l1 41l1 40l1 34l1 33l1 34l1-40l1-19l1-18l5 0l1 41l1-19l3-54l1 40l2 68l1 33l1 34l1 33l2 68l1 33l1-40l1-18l1-19l1-18l2 0l2-138l4 0l1 40l1 41l1-41l1 41l1 33l1-40l1-18l1 40l1 34l1 33l1-40l1-18l1-19l1 0l1-69l1 34l1-70l1 41l1 0l1-69l1-41l5 0l1 41l1-19l1 41l1 34l1 33l2 68l1 33l1 34l1 33l2-138l1 33l2 68l1-41l3 0l1-69l1-41l1 41l1 34l1-41l2-36l1 40l1 34l1-41l1 41l1-70l7 0l1-69l1 34l1 33l1 34l1-69l1 0l1 40l2 0l1-69l1-41l3-54l1-19l2 0l1-69l1-40l1-19l3-54l1-19l1 41l1-41l1 0l1 41l2-36l1 0l1-70l2 68l1 33l1 34l1 33l2 68l1 33l1 34l1-40l1 40l1-40l1-19l1 0l1 41l1-18l3 0l1 40l1-18l1 40l2 68l1-41l1 41l1 33l2 68l1 33l2 68l1 33l1-69l1 41l1-19l3-54l1-19l1-18l3 0l1-69l1 33l2 68l1 33l1-69l2 0l1 41l1 0l1 40l1 41l1-41l2-36l2 0l1 40l1 41l1 33l2 68l1-41l1-18l1 41l1-41l1 41l1 33l1-69l3 0l1 40l1-18l2 0l1 41l1 40l2 68l1-41l1 41l1-70l1 41l1-18l1-19l1-18"/>
</g>
<line x1="96.130" y1="441.140" x2="800.676" y2="186.372" stroke="#000" stroke-width="3.472" stroke-dasharray="12.847 5.556"/>
<polyline points="96.13,440.71 103.18,438.33 110.22,435.96 117.27,433.58 124.31,431.21 131.36,428.72 138.40,426.22 145.45,423.73 152.49,421.24 159.54,418.74 166.58,416.25 173.63,413.76 180.68,411.26 187.72,408.77 194.77,406.28 201.81,403.79 208.86,401.29 215.90,398.80 222.95,396.31 229.99,393.82 237.04,391.33 244.08,388.83 251.13,386.34 258.18,383.85 265.22,381.36 272.27,378.87 279.31,376.37 286.36,373.82 293.40,371.26 300.45,368.71 307.49,366.15 314.54,363.60 321.58,361.04 328.63,358.49 335.68,355.93 342.72,353.38 349.77,350.82 356.81,348.27 363.86,345.71 370.90,343.16 377.95,340.60 384.99,338.04 392.04,335.49 399.08,332.93 406.13,330.38 413.18,327.82 420.22,325.27 427.27,322.71 434.31,320.16 441.36,317.60 448.40,315.05 455.45,312.49 462.49,309.94 469.54,307.38 476.58,304.83 483.63,302.27 490.68,299.71 497.72,297.16 504.77,294.60 511.81,292.05 518.86,289.49 525.90,286.93 532.95,284.37 539.99,281.81 547.04,279.24 554.08,276.68 561.13,274.12 568.18,271.56 575.22,269.00 582.27,266.43 589.31,263.87 596.36,261.31 603.40,258.75 610.45,256.19 617.49,253.62 624.54,251.06 631.58,248.50 638.63,245.94 645.68,243.37 652.72,240.81 659.77,238.25 666.81,235.69 673.86,233.13 680.90,230.56 687.95,228.00 694.99,225.47 702.04,222.94 709.08,220.41 716.13,217.88 723.18,215.35 730.22,212.81 737.27,210.28 744.31,207.75 751.36,205.22 758.40,202.69 765.45,200.16 772.49,197.63 779.54,195.09 786.58,192.56 793.63,190.03 800.68,187.50" fill="none" stroke="#ff0000" stroke-opacity="0.7" stroke-width="3.472" stroke-linecap="square" stroke-linejoin="round"/>
<line x1="60.903" y1="441" x2="835.903" y2="441" stroke="#808080" stroke-opacity="0.5" stroke-width="2.083" stroke-dasharray="7.708 3.333"/>
<rect x="61.5" y="30.5" width="775" height="462" fill="none" stroke="#000" stroke-width="1.111" stroke-linejoin="miter" stroke-linecap="square"/>
<path d="M96.5 492.5V497.5M237.5 492.5V497.5M378.5 492.5V497.5M519.5 492.5V497.5M660.5 492.5V497.5M801.5 492.5V497.5M56.5 441.5H61.5M56.5 354.5H61.5M56.5 268.5H61.5M56.5 181.5H61.5M56.5 94.5H61.5" stroke="#000" stroke-width="1.111"/>
<rect x="68.35" y="37.74" width="175.5" height="49.56" rx="2.78" ry="2.78" fill="#fff" fill-opacity="0.8" stroke="#cccccc" stroke-opacity="0.8" stroke-width="1.389"/>
<line x1="74.6" y1="50.5" x2="101.3" y2="50.5" stroke="#000" stroke-width="3.472" stroke-dasharray="12.5 6.1"/>
<line x1="74.5" y1="73.4" x2="101.5" y2="73.4" stroke="#ff0000" stroke-opacity="0.7" stroke-width="3.472" stroke-linecap="square"/>
<g opacity="0.999">
<text font-family="&apos;Liberation Sans&apos;, sans-serif" x="272.40" y="20.20" font-size="17.400" textLength="350.40" lengthAdjust="spacingAndGlyphs" fill="#000">Markov chain likelihood ratios (nature = f)</text>
<text font-family="&apos;Liberation Sans&apos;, sans-serif" x="94.00" y="513.00" font-size="13.890" fill="#000">0</text>
<text font-family="&apos;Liberation Sans&apos;, sans-serif" x="224.20" y="513.00" font-size="13.890" textLength="25.30" lengthAdjust="spacingAndGlyphs" fill="#000">100</text>
<text font-family="&apos;Liberation Sans&apos;, sans-serif" x="366.00" y="513.00" font-size="13.890" textLength="25.30" lengthAdjust="spacingAndGlyphs" fill="#000">200</text>
<text font-family="&apos;Liberation Sans&apos;, sans-serif" x="507.00" y="513.00" font-size="13.890" textLength="24.50" lengthAdjust="spacingAndGlyphs" fill="#000">300</text>
<text font-family="&apos;Liberation Sans&apos;, sans-serif" x="647.00" y="513.00" font-size="13.890" textLength="25.30" lengthAdjust="spacingAndGlyphs" fill="#000">400</text>
<text font-family="&apos;Liberation Sans&apos;, sans-serif" x="788.20" y="513.00" font-size="13.890" textLength="25.30" lengthAdjust="spacingAndGlyphs" fill="#000">500</text>
<text font-family="&apos;Liberation Sans&apos;, sans-serif" x="44.00" y="447.00" font-size="13.890" fill="#000">0</text>
<text font-family="&apos;Liberation Sans&apos;, sans-serif" x="34.20" y="360.00" font-size="13.890" textLength="16.00" lengthAdjust="spacingAndGlyphs" fill="#000">10</text>
<text font-family="&apos;Liberation Sans&apos;, sans-serif" x="35.00" y="273.00" font-size="13.890" textLength="16.00" lengthAdjust="spacingAndGlyphs" fill="#000">20</text>
<text font-family="&apos;Liberation Sans&apos;, sans-serif" x="35.00" y="187.00" font-size="13.890" textLength="15.20" lengthAdjust="spacingAndGlyphs" fill="#000">30</text>
<text font-family="&apos;Liberation Sans&apos;, sans-serif" x="34.00" y="100.00" font-size="13.890" textLength="16.00" lengthAdjust="spacingAndGlyphs" fill="#000">40</text>
<text font-family="&apos;Liberation Sans&apos;, sans-serif" x="443.20" y="533.00" font-size="13.890" fill="#000"><tspan font-style="italic">T</tspan></text>
<text font-family="&apos;Liberation Sans&apos;, sans-serif" x="22.00" y="280.80" font-size="13.890" textLength="37.00" lengthAdjust="spacingAndGlyphs" transform="rotate(-90 22.00 280.80)" fill="#000">log <tspan font-style="italic">L</tspan><tspan font-style="italic" font-size="9.7" dy="2">T</tspan></text>
<text font-family="&apos;Liberation Sans&apos;, sans-serif" x="112.20" y="56.00" font-size="13.890" textLength="77.60" lengthAdjust="spacingAndGlyphs" fill="#000"><tspan font-style="italic">T</tspan> <tspan font-size="17.5" dy="0.8">×</tspan> <tspan font-style="italic" dy="-0.8">h</tspan><tspan font-style="italic" font-size="9.7" dy="2">KL</tspan><tspan dy="-2">(</tspan><tspan font-style="italic">f</tspan>, <tspan font-style="italic">g</tspan>)</text>
<text font-family="&apos;Liberation Sans&apos;, sans-serif" x="113.00" y="79.00" font-size="13.890" textLength="125.00" lengthAdjust="spacingAndGlyphs" fill="#000">empirical average</text>
</g>
</svg></body></html>
